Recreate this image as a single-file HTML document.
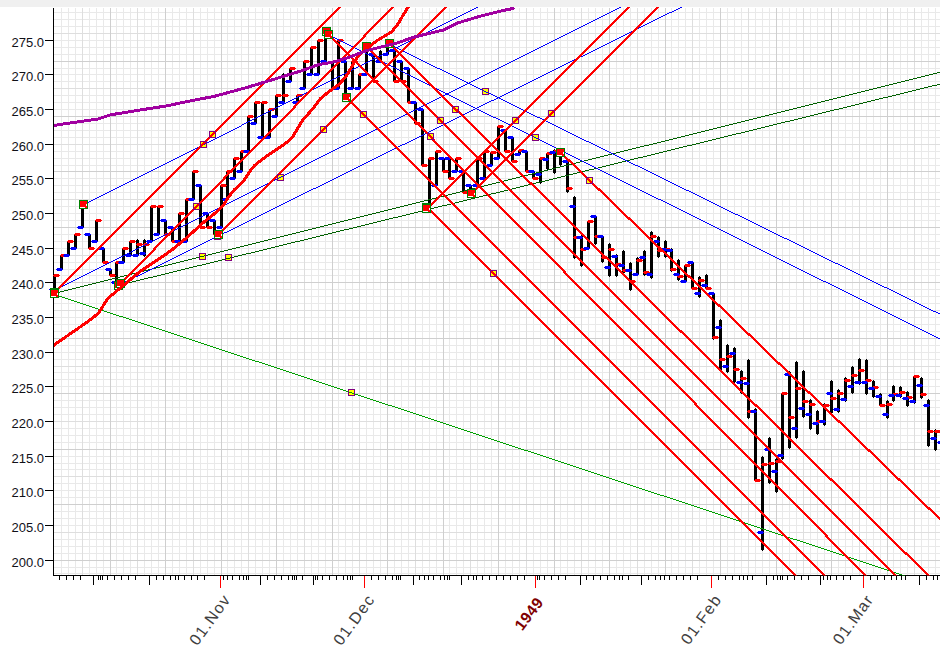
<!DOCTYPE html><html><head><meta charset="utf-8"><title>Chart</title>
<style>html,body{margin:0;padding:0;background:#fff}body{width:940px;height:654px;overflow:hidden}svg{display:block}text{font-family:"Liberation Sans",Arial,sans-serif}</style></head><body>
<svg width="940" height="654" viewBox="0 0 940 654" shape-rendering="crispEdges">
<rect x="0" y="0" width="940" height="654" fill="#ffffff"/>
<rect x="0" y="0" width="940" height="7" fill="#f0f0f0"/>
<defs><clipPath id="cp"><rect x="54" y="7" width="886" height="568.6"/></clipPath></defs>
<g><rect x="61" y="8" width="1" height="567" fill="#e9e9e9"/><rect x="68" y="8" width="1" height="567" fill="#e9e9e9"/><rect x="75" y="8" width="1" height="567" fill="#e9e9e9"/><rect x="89" y="8" width="1" height="567" fill="#e9e9e9"/><rect x="96" y="8" width="1" height="567" fill="#e9e9e9"/><rect x="103" y="8" width="1" height="567" fill="#e9e9e9"/><rect x="116" y="8" width="1" height="567" fill="#e9e9e9"/><rect x="123" y="8" width="1" height="567" fill="#e9e9e9"/><rect x="130" y="8" width="1" height="567" fill="#e9e9e9"/><rect x="144" y="8" width="1" height="567" fill="#e9e9e9"/><rect x="151" y="8" width="1" height="567" fill="#e9e9e9"/><rect x="158" y="8" width="1" height="567" fill="#e9e9e9"/><rect x="172" y="8" width="1" height="567" fill="#e9e9e9"/><rect x="179" y="8" width="1" height="567" fill="#e9e9e9"/><rect x="186" y="8" width="1" height="567" fill="#e9e9e9"/><rect x="200" y="8" width="1" height="567" fill="#e9e9e9"/><rect x="207" y="8" width="1" height="567" fill="#e9e9e9"/><rect x="214" y="8" width="1" height="567" fill="#e9e9e9"/><rect x="227" y="8" width="1" height="567" fill="#e9e9e9"/><rect x="234" y="8" width="1" height="567" fill="#e9e9e9"/><rect x="241" y="8" width="1" height="567" fill="#e9e9e9"/><rect x="255" y="8" width="1" height="567" fill="#e9e9e9"/><rect x="262" y="8" width="1" height="567" fill="#e9e9e9"/><rect x="269" y="8" width="1" height="567" fill="#e9e9e9"/><rect x="283" y="8" width="1" height="567" fill="#e9e9e9"/><rect x="290" y="8" width="1" height="567" fill="#e9e9e9"/><rect x="297" y="8" width="1" height="567" fill="#e9e9e9"/><rect x="311" y="8" width="1" height="567" fill="#e9e9e9"/><rect x="318" y="8" width="1" height="567" fill="#e9e9e9"/><rect x="325" y="8" width="1" height="567" fill="#e9e9e9"/><rect x="338" y="8" width="1" height="567" fill="#e9e9e9"/><rect x="345" y="8" width="1" height="567" fill="#e9e9e9"/><rect x="352" y="8" width="1" height="567" fill="#e9e9e9"/><rect x="366" y="8" width="1" height="567" fill="#e9e9e9"/><rect x="373" y="8" width="1" height="567" fill="#e9e9e9"/><rect x="380" y="8" width="1" height="567" fill="#e9e9e9"/><rect x="394" y="8" width="1" height="567" fill="#e9e9e9"/><rect x="401" y="8" width="1" height="567" fill="#e9e9e9"/><rect x="408" y="8" width="1" height="567" fill="#e9e9e9"/><rect x="422" y="8" width="1" height="567" fill="#e9e9e9"/><rect x="429" y="8" width="1" height="567" fill="#e9e9e9"/><rect x="436" y="8" width="1" height="567" fill="#e9e9e9"/><rect x="449" y="8" width="1" height="567" fill="#e9e9e9"/><rect x="456" y="8" width="1" height="567" fill="#e9e9e9"/><rect x="463" y="8" width="1" height="567" fill="#e9e9e9"/><rect x="477" y="8" width="1" height="567" fill="#e9e9e9"/><rect x="484" y="8" width="1" height="567" fill="#e9e9e9"/><rect x="491" y="8" width="1" height="567" fill="#e9e9e9"/><rect x="505" y="8" width="1" height="567" fill="#e9e9e9"/><rect x="512" y="8" width="1" height="567" fill="#e9e9e9"/><rect x="519" y="8" width="1" height="567" fill="#e9e9e9"/><rect x="533" y="8" width="1" height="567" fill="#e9e9e9"/><rect x="540" y="8" width="1" height="567" fill="#e9e9e9"/><rect x="547" y="8" width="1" height="567" fill="#e9e9e9"/><rect x="560" y="8" width="1" height="567" fill="#e9e9e9"/><rect x="567" y="8" width="1" height="567" fill="#e9e9e9"/><rect x="574" y="8" width="1" height="567" fill="#e9e9e9"/><rect x="588" y="8" width="1" height="567" fill="#e9e9e9"/><rect x="595" y="8" width="1" height="567" fill="#e9e9e9"/><rect x="602" y="8" width="1" height="567" fill="#e9e9e9"/><rect x="616" y="8" width="1" height="567" fill="#e9e9e9"/><rect x="623" y="8" width="1" height="567" fill="#e9e9e9"/><rect x="630" y="8" width="1" height="567" fill="#e9e9e9"/><rect x="644" y="8" width="1" height="567" fill="#e9e9e9"/><rect x="651" y="8" width="1" height="567" fill="#e9e9e9"/><rect x="658" y="8" width="1" height="567" fill="#e9e9e9"/><rect x="671" y="8" width="1" height="567" fill="#e9e9e9"/><rect x="678" y="8" width="1" height="567" fill="#e9e9e9"/><rect x="685" y="8" width="1" height="567" fill="#e9e9e9"/><rect x="699" y="8" width="1" height="567" fill="#e9e9e9"/><rect x="706" y="8" width="1" height="567" fill="#e9e9e9"/><rect x="713" y="8" width="1" height="567" fill="#e9e9e9"/><rect x="727" y="8" width="1" height="567" fill="#e9e9e9"/><rect x="734" y="8" width="1" height="567" fill="#e9e9e9"/><rect x="741" y="8" width="1" height="567" fill="#e9e9e9"/><rect x="755" y="8" width="1" height="567" fill="#e9e9e9"/><rect x="762" y="8" width="1" height="567" fill="#e9e9e9"/><rect x="769" y="8" width="1" height="567" fill="#e9e9e9"/><rect x="782" y="8" width="1" height="567" fill="#e9e9e9"/><rect x="789" y="8" width="1" height="567" fill="#e9e9e9"/><rect x="796" y="8" width="1" height="567" fill="#e9e9e9"/><rect x="810" y="8" width="1" height="567" fill="#e9e9e9"/><rect x="817" y="8" width="1" height="567" fill="#e9e9e9"/><rect x="824" y="8" width="1" height="567" fill="#e9e9e9"/><rect x="838" y="8" width="1" height="567" fill="#e9e9e9"/><rect x="845" y="8" width="1" height="567" fill="#e9e9e9"/><rect x="852" y="8" width="1" height="567" fill="#e9e9e9"/><rect x="866" y="8" width="1" height="567" fill="#e9e9e9"/><rect x="873" y="8" width="1" height="567" fill="#e9e9e9"/><rect x="880" y="8" width="1" height="567" fill="#e9e9e9"/><rect x="893" y="8" width="1" height="567" fill="#e9e9e9"/><rect x="900" y="8" width="1" height="567" fill="#e9e9e9"/><rect x="907" y="8" width="1" height="567" fill="#e9e9e9"/><rect x="921" y="8" width="1" height="567" fill="#e9e9e9"/><rect x="928" y="8" width="1" height="567" fill="#e9e9e9"/><rect x="935" y="8" width="1" height="567" fill="#e9e9e9"/><rect x="54" y="573" width="886" height="1" fill="#e9e9e9"/><rect x="54" y="567" width="886" height="1" fill="#e9e9e9"/><rect x="54" y="553" width="886" height="1" fill="#e9e9e9"/><rect x="54" y="546" width="886" height="1" fill="#e9e9e9"/><rect x="54" y="539" width="886" height="1" fill="#e9e9e9"/><rect x="54" y="525" width="886" height="1" fill="#e9e9e9"/><rect x="54" y="518" width="886" height="1" fill="#e9e9e9"/><rect x="54" y="511" width="886" height="1" fill="#e9e9e9"/><rect x="54" y="497" width="886" height="1" fill="#e9e9e9"/><rect x="54" y="490" width="886" height="1" fill="#e9e9e9"/><rect x="54" y="483" width="886" height="1" fill="#e9e9e9"/><rect x="54" y="469" width="886" height="1" fill="#e9e9e9"/><rect x="54" y="463" width="886" height="1" fill="#e9e9e9"/><rect x="54" y="456" width="886" height="1" fill="#e9e9e9"/><rect x="54" y="442" width="886" height="1" fill="#e9e9e9"/><rect x="54" y="435" width="886" height="1" fill="#e9e9e9"/><rect x="54" y="428" width="886" height="1" fill="#e9e9e9"/><rect x="54" y="414" width="886" height="1" fill="#e9e9e9"/><rect x="54" y="407" width="886" height="1" fill="#e9e9e9"/><rect x="54" y="400" width="886" height="1" fill="#e9e9e9"/><rect x="54" y="386" width="886" height="1" fill="#e9e9e9"/><rect x="54" y="379" width="886" height="1" fill="#e9e9e9"/><rect x="54" y="372" width="886" height="1" fill="#e9e9e9"/><rect x="54" y="359" width="886" height="1" fill="#e9e9e9"/><rect x="54" y="352" width="886" height="1" fill="#e9e9e9"/><rect x="54" y="345" width="886" height="1" fill="#e9e9e9"/><rect x="54" y="331" width="886" height="1" fill="#e9e9e9"/><rect x="54" y="324" width="886" height="1" fill="#e9e9e9"/><rect x="54" y="317" width="886" height="1" fill="#e9e9e9"/><rect x="54" y="303" width="886" height="1" fill="#e9e9e9"/><rect x="54" y="296" width="886" height="1" fill="#e9e9e9"/><rect x="54" y="289" width="886" height="1" fill="#e9e9e9"/><rect x="54" y="275" width="886" height="1" fill="#e9e9e9"/><rect x="54" y="269" width="886" height="1" fill="#e9e9e9"/><rect x="54" y="262" width="886" height="1" fill="#e9e9e9"/><rect x="54" y="248" width="886" height="1" fill="#e9e9e9"/><rect x="54" y="241" width="886" height="1" fill="#e9e9e9"/><rect x="54" y="234" width="886" height="1" fill="#e9e9e9"/><rect x="54" y="220" width="886" height="1" fill="#e9e9e9"/><rect x="54" y="213" width="886" height="1" fill="#e9e9e9"/><rect x="54" y="206" width="886" height="1" fill="#e9e9e9"/><rect x="54" y="192" width="886" height="1" fill="#e9e9e9"/><rect x="54" y="185" width="886" height="1" fill="#e9e9e9"/><rect x="54" y="178" width="886" height="1" fill="#e9e9e9"/><rect x="54" y="165" width="886" height="1" fill="#e9e9e9"/><rect x="54" y="158" width="886" height="1" fill="#e9e9e9"/><rect x="54" y="151" width="886" height="1" fill="#e9e9e9"/><rect x="54" y="137" width="886" height="1" fill="#e9e9e9"/><rect x="54" y="130" width="886" height="1" fill="#e9e9e9"/><rect x="54" y="123" width="886" height="1" fill="#e9e9e9"/><rect x="54" y="109" width="886" height="1" fill="#e9e9e9"/><rect x="54" y="102" width="886" height="1" fill="#e9e9e9"/><rect x="54" y="95" width="886" height="1" fill="#e9e9e9"/><rect x="54" y="81" width="886" height="1" fill="#e9e9e9"/><rect x="54" y="74" width="886" height="1" fill="#e9e9e9"/><rect x="54" y="68" width="886" height="1" fill="#e9e9e9"/><rect x="54" y="54" width="886" height="1" fill="#e9e9e9"/><rect x="54" y="47" width="886" height="1" fill="#e9e9e9"/><rect x="54" y="40" width="886" height="1" fill="#e9e9e9"/><rect x="54" y="26" width="886" height="1" fill="#e9e9e9"/><rect x="54" y="19" width="886" height="1" fill="#e9e9e9"/><rect x="54" y="12" width="886" height="1" fill="#e9e9e9"/><rect x="82" y="8" width="1" height="567" fill="#dedede"/><rect x="137" y="8" width="1" height="567" fill="#dedede"/><rect x="193" y="8" width="1" height="567" fill="#dedede"/><rect x="248" y="8" width="1" height="567" fill="#dedede"/><rect x="304" y="8" width="1" height="567" fill="#dedede"/><rect x="359" y="8" width="1" height="567" fill="#dedede"/><rect x="415" y="8" width="1" height="567" fill="#dedede"/><rect x="470" y="8" width="1" height="567" fill="#dedede"/><rect x="526" y="8" width="1" height="567" fill="#dedede"/><rect x="581" y="8" width="1" height="567" fill="#dedede"/><rect x="637" y="8" width="1" height="567" fill="#dedede"/><rect x="692" y="8" width="1" height="567" fill="#dedede"/><rect x="748" y="8" width="1" height="567" fill="#dedede"/><rect x="803" y="8" width="1" height="567" fill="#dedede"/><rect x="859" y="8" width="1" height="567" fill="#dedede"/><rect x="914" y="8" width="1" height="567" fill="#dedede"/><rect x="54" y="532" width="886" height="1" fill="#dedede"/><rect x="54" y="476" width="886" height="1" fill="#dedede"/><rect x="54" y="421" width="886" height="1" fill="#dedede"/><rect x="54" y="366" width="886" height="1" fill="#dedede"/><rect x="54" y="310" width="886" height="1" fill="#dedede"/><rect x="54" y="255" width="886" height="1" fill="#dedede"/><rect x="54" y="199" width="886" height="1" fill="#dedede"/><rect x="54" y="144" width="886" height="1" fill="#dedede"/><rect x="54" y="88" width="886" height="1" fill="#dedede"/><rect x="54" y="33" width="886" height="1" fill="#dedede"/><rect x="110" y="8" width="1" height="567" fill="#cfcfcf"/><rect x="165" y="8" width="1" height="567" fill="#cfcfcf"/><rect x="221" y="8" width="1" height="567" fill="#cfcfcf"/><rect x="276" y="8" width="1" height="567" fill="#cfcfcf"/><rect x="332" y="8" width="1" height="567" fill="#cfcfcf"/><rect x="387" y="8" width="1" height="567" fill="#cfcfcf"/><rect x="443" y="8" width="1" height="567" fill="#cfcfcf"/><rect x="498" y="8" width="1" height="567" fill="#cfcfcf"/><rect x="554" y="8" width="1" height="567" fill="#cfcfcf"/><rect x="609" y="8" width="1" height="567" fill="#cfcfcf"/><rect x="665" y="8" width="1" height="567" fill="#cfcfcf"/><rect x="720" y="8" width="1" height="567" fill="#cfcfcf"/><rect x="776" y="8" width="1" height="567" fill="#cfcfcf"/><rect x="831" y="8" width="1" height="567" fill="#cfcfcf"/><rect x="887" y="8" width="1" height="567" fill="#cfcfcf"/><rect x="54" y="560" width="886" height="1" fill="#cfcfcf"/><rect x="54" y="504" width="886" height="1" fill="#cfcfcf"/><rect x="54" y="449" width="886" height="1" fill="#cfcfcf"/><rect x="54" y="393" width="886" height="1" fill="#cfcfcf"/><rect x="54" y="338" width="886" height="1" fill="#cfcfcf"/><rect x="54" y="282" width="886" height="1" fill="#cfcfcf"/><rect x="54" y="227" width="886" height="1" fill="#cfcfcf"/><rect x="54" y="171" width="886" height="1" fill="#cfcfcf"/><rect x="54" y="116" width="886" height="1" fill="#cfcfcf"/><rect x="54" y="61" width="886" height="1" fill="#cfcfcf"/></g>
<rect x="53" y="8" width="1" height="568" fill="#000"/>
<rect x="53" y="575" width="887" height="1" fill="#000"/>
<rect x="45" y="560" width="8" height="1" fill="#000"/>
<text x="44" y="566.9" font-size="13" text-anchor="end" fill="#101018">200.0</text>
<rect x="45" y="525" width="8" height="1" fill="#000"/>
<text x="44" y="531.9" font-size="13" text-anchor="end" fill="#101018">205.0</text>
<rect x="45" y="490" width="8" height="1" fill="#000"/>
<text x="44" y="496.9" font-size="13" text-anchor="end" fill="#101018">210.0</text>
<rect x="45" y="456" width="8" height="1" fill="#000"/>
<text x="44" y="462.9" font-size="13" text-anchor="end" fill="#101018">215.0</text>
<rect x="45" y="421" width="8" height="1" fill="#000"/>
<text x="44" y="427.9" font-size="13" text-anchor="end" fill="#101018">220.0</text>
<rect x="45" y="386" width="8" height="1" fill="#000"/>
<text x="44" y="392.9" font-size="13" text-anchor="end" fill="#101018">225.0</text>
<rect x="45" y="352" width="8" height="1" fill="#000"/>
<text x="44" y="358.9" font-size="13" text-anchor="end" fill="#101018">230.0</text>
<rect x="45" y="317" width="8" height="1" fill="#000"/>
<text x="44" y="323.9" font-size="13" text-anchor="end" fill="#101018">235.0</text>
<rect x="45" y="282" width="8" height="1" fill="#000"/>
<text x="44" y="288.9" font-size="13" text-anchor="end" fill="#101018">240.0</text>
<rect x="45" y="248" width="8" height="1" fill="#000"/>
<text x="44" y="254.9" font-size="13" text-anchor="end" fill="#101018">245.0</text>
<rect x="45" y="213" width="8" height="1" fill="#000"/>
<text x="44" y="219.9" font-size="13" text-anchor="end" fill="#101018">250.0</text>
<rect x="45" y="178" width="8" height="1" fill="#000"/>
<text x="44" y="184.9" font-size="13" text-anchor="end" fill="#101018">255.0</text>
<rect x="45" y="144" width="8" height="1" fill="#000"/>
<text x="44" y="150.9" font-size="13" text-anchor="end" fill="#101018">260.0</text>
<rect x="45" y="109" width="8" height="1" fill="#000"/>
<text x="44" y="115.9" font-size="13" text-anchor="end" fill="#101018">265.0</text>
<rect x="45" y="74" width="8" height="1" fill="#000"/>
<text x="44" y="80.9" font-size="13" text-anchor="end" fill="#101018">270.0</text>
<rect x="45" y="40" width="8" height="1" fill="#000"/>
<text x="44" y="46.9" font-size="13" text-anchor="end" fill="#101018">275.0</text>
<g><rect x="59" y="576" width="1" height="4" fill="#000"/><rect x="66" y="576" width="1" height="4" fill="#000"/><rect x="73" y="576" width="1" height="4" fill="#000"/><rect x="80" y="576" width="1" height="4" fill="#000"/><rect x="98" y="576" width="1" height="4" fill="#000"/><rect x="100" y="576" width="1" height="4" fill="#000"/><rect x="102" y="576" width="1" height="4" fill="#000"/><rect x="107" y="576" width="1" height="4" fill="#000"/><rect x="114" y="576" width="1" height="4" fill="#000"/><rect x="121" y="576" width="1" height="4" fill="#000"/><rect x="128" y="576" width="1" height="4" fill="#000"/><rect x="135" y="576" width="1" height="4" fill="#000"/><rect x="156" y="576" width="1" height="4" fill="#000"/><rect x="163" y="576" width="1" height="4" fill="#000"/><rect x="170" y="576" width="1" height="4" fill="#000"/><rect x="175" y="576" width="1" height="4" fill="#000"/><rect x="178" y="576" width="1" height="4" fill="#000"/><rect x="184" y="576" width="1" height="4" fill="#000"/><rect x="191" y="576" width="1" height="4" fill="#000"/><rect x="197" y="576" width="1" height="4" fill="#000"/><rect x="204" y="576" width="1" height="4" fill="#000"/><rect x="223" y="576" width="1" height="4" fill="#000"/><rect x="227" y="576" width="1" height="4" fill="#000"/><rect x="232" y="576" width="1" height="4" fill="#000"/><rect x="239" y="576" width="1" height="4" fill="#000"/><rect x="243" y="576" width="1" height="4" fill="#000"/><rect x="246" y="576" width="1" height="4" fill="#000"/><rect x="248" y="576" width="1" height="4" fill="#000"/><rect x="267" y="576" width="1" height="4" fill="#000"/><rect x="274" y="576" width="1" height="4" fill="#000"/><rect x="281" y="576" width="1" height="4" fill="#000"/><rect x="288" y="576" width="1" height="4" fill="#000"/><rect x="292" y="576" width="1" height="4" fill="#000"/><rect x="294" y="576" width="1" height="4" fill="#000"/><rect x="296" y="576" width="1" height="4" fill="#000"/><rect x="302" y="576" width="1" height="4" fill="#000"/><rect x="315" y="576" width="1" height="4" fill="#000"/><rect x="317" y="576" width="1" height="4" fill="#000"/><rect x="322" y="576" width="1" height="4" fill="#000"/><rect x="329" y="576" width="1" height="4" fill="#000"/><rect x="336" y="576" width="1" height="4" fill="#000"/><rect x="343" y="576" width="1" height="4" fill="#000"/><rect x="347" y="576" width="1" height="4" fill="#000"/><rect x="350" y="576" width="1" height="4" fill="#000"/><rect x="352" y="576" width="1" height="4" fill="#000"/><rect x="371" y="576" width="1" height="4" fill="#000"/><rect x="378" y="576" width="1" height="4" fill="#000"/><rect x="385" y="576" width="1" height="4" fill="#000"/><rect x="392" y="576" width="1" height="4" fill="#000"/><rect x="396" y="576" width="1" height="4" fill="#000"/><rect x="398" y="576" width="1" height="4" fill="#000"/><rect x="400" y="576" width="1" height="4" fill="#000"/><rect x="419" y="576" width="1" height="4" fill="#000"/><rect x="424" y="576" width="1" height="4" fill="#000"/><rect x="428" y="576" width="1" height="4" fill="#000"/><rect x="433" y="576" width="1" height="4" fill="#000"/><rect x="440" y="576" width="1" height="4" fill="#000"/><rect x="444" y="576" width="1" height="4" fill="#000"/><rect x="447" y="576" width="1" height="4" fill="#000"/><rect x="449" y="576" width="1" height="4" fill="#000"/><rect x="468" y="576" width="1" height="4" fill="#000"/><rect x="473" y="576" width="1" height="4" fill="#000"/><rect x="476" y="576" width="1" height="4" fill="#000"/><rect x="482" y="576" width="1" height="4" fill="#000"/><rect x="489" y="576" width="1" height="4" fill="#000"/><rect x="496" y="576" width="1" height="4" fill="#000"/><rect x="503" y="576" width="1" height="4" fill="#000"/><rect x="510" y="576" width="1" height="4" fill="#000"/><rect x="517" y="576" width="1" height="4" fill="#000"/><rect x="524" y="576" width="1" height="4" fill="#000"/><rect x="537" y="576" width="1" height="4" fill="#000"/><rect x="539" y="576" width="1" height="4" fill="#000"/><rect x="544" y="576" width="1" height="4" fill="#000"/><rect x="551" y="576" width="1" height="4" fill="#000"/><rect x="558" y="576" width="1" height="4" fill="#000"/><rect x="565" y="576" width="1" height="4" fill="#000"/><rect x="586" y="576" width="1" height="4" fill="#000"/><rect x="593" y="576" width="1" height="4" fill="#000"/><rect x="600" y="576" width="1" height="4" fill="#000"/><rect x="607" y="576" width="1" height="4" fill="#000"/><rect x="614" y="576" width="1" height="4" fill="#000"/><rect x="619" y="576" width="1" height="4" fill="#000"/><rect x="622" y="576" width="1" height="4" fill="#000"/><rect x="628" y="576" width="1" height="4" fill="#000"/><rect x="648" y="576" width="1" height="4" fill="#000"/><rect x="655" y="576" width="1" height="4" fill="#000"/><rect x="660" y="576" width="1" height="4" fill="#000"/><rect x="664" y="576" width="1" height="4" fill="#000"/><rect x="669" y="576" width="1" height="4" fill="#000"/><rect x="676" y="576" width="1" height="4" fill="#000"/><rect x="683" y="576" width="1" height="4" fill="#000"/><rect x="690" y="576" width="1" height="4" fill="#000"/><rect x="697" y="576" width="1" height="4" fill="#000"/><rect x="718" y="576" width="1" height="4" fill="#000"/><rect x="725" y="576" width="1" height="4" fill="#000"/><rect x="732" y="576" width="1" height="4" fill="#000"/><rect x="739" y="576" width="1" height="4" fill="#000"/><rect x="743" y="576" width="1" height="4" fill="#000"/><rect x="747" y="576" width="1" height="4" fill="#000"/><rect x="752" y="576" width="1" height="4" fill="#000"/><rect x="773" y="576" width="1" height="4" fill="#000"/><rect x="777" y="576" width="1" height="4" fill="#000"/><rect x="780" y="576" width="1" height="4" fill="#000"/><rect x="782" y="576" width="1" height="4" fill="#000"/><rect x="787" y="576" width="1" height="4" fill="#000"/><rect x="794" y="576" width="1" height="4" fill="#000"/><rect x="801" y="576" width="1" height="4" fill="#000"/><rect x="808" y="576" width="1" height="4" fill="#000"/><rect x="823" y="576" width="1" height="4" fill="#000"/><rect x="827" y="576" width="1" height="4" fill="#000"/><rect x="830" y="576" width="1" height="4" fill="#000"/><rect x="836" y="576" width="1" height="4" fill="#000"/><rect x="843" y="576" width="1" height="4" fill="#000"/><rect x="850" y="576" width="1" height="4" fill="#000"/><rect x="870" y="576" width="1" height="4" fill="#000"/><rect x="877" y="576" width="1" height="4" fill="#000"/><rect x="884" y="576" width="1" height="4" fill="#000"/><rect x="891" y="576" width="1" height="4" fill="#000"/><rect x="896" y="576" width="1" height="4" fill="#000"/><rect x="901" y="576" width="1" height="4" fill="#000"/><rect x="905" y="576" width="1" height="4" fill="#000"/><rect x="926" y="576" width="1" height="4" fill="#000"/><rect x="933" y="576" width="1" height="4" fill="#000"/><rect x="937" y="576" width="1" height="4" fill="#000"/><rect x="93" y="576" width="1" height="9" fill="#000"/><rect x="149" y="576" width="1" height="9" fill="#000"/><rect x="260" y="576" width="1" height="9" fill="#000"/><rect x="313" y="576" width="1" height="9" fill="#000"/><rect x="413" y="576" width="1" height="9" fill="#000"/><rect x="461" y="576" width="1" height="9" fill="#000"/><rect x="580" y="576" width="1" height="9" fill="#000"/><rect x="641" y="576" width="1" height="9" fill="#000"/><rect x="766" y="576" width="1" height="9" fill="#000"/><rect x="820" y="576" width="1" height="9" fill="#000"/><rect x="919" y="576" width="1" height="9" fill="#000"/><rect x="220" y="576" width="1" height="12" fill="#ff0000"/><rect x="364" y="576" width="1" height="12" fill="#ff0000"/><rect x="535" y="576" width="1" height="12" fill="#ff0000"/><rect x="711" y="576" width="1" height="12" fill="#ff0000"/><rect x="863" y="576" width="1" height="12" fill="#ff0000"/></g>
<text transform="translate(197.20000000000002,646.5) rotate(-54)" font-size="16" letter-spacing="1.28" fill="#404040">01.Nov</text>
<text transform="translate(341.3,646.5) rotate(-54)" font-size="16" letter-spacing="1.28" fill="#404040">01.Dec</text>
<text transform="translate(522.1999999999999,631.6) rotate(-53)" font-size="15.5" letter-spacing="0.55" font-weight="bold" fill="#800000">1949</text>
<text transform="translate(688.6999999999999,645.8) rotate(-54)" font-size="16" letter-spacing="1.28" fill="#404040">01.Feb</text>
<text transform="translate(840.6999999999999,645.8) rotate(-54)" font-size="16" letter-spacing="1.28" fill="#404040">01.Mar</text>
<g><rect x="53" y="276" width="3" height="17" fill="#000"/><rect x="54" y="275" width="1" height="19" fill="#000"/><rect x="60" y="256" width="3" height="13" fill="#000"/><rect x="61" y="255" width="1" height="15" fill="#000"/><rect x="67" y="242" width="3" height="13" fill="#000"/><rect x="68" y="241" width="1" height="15" fill="#000"/><rect x="74" y="235" width="3" height="13" fill="#000"/><rect x="75" y="234" width="1" height="15" fill="#000"/><rect x="81" y="205" width="3" height="22" fill="#000"/><rect x="82" y="204" width="1" height="24" fill="#000"/><rect x="88" y="235" width="3" height="13" fill="#000"/><rect x="89" y="234" width="1" height="15" fill="#000"/><rect x="95" y="221" width="3" height="20" fill="#000"/><rect x="96" y="220" width="1" height="22" fill="#000"/><rect x="102" y="249" width="3" height="13" fill="#000"/><rect x="103" y="248" width="1" height="15" fill="#000"/><rect x="109" y="270" width="3" height="5" fill="#000"/><rect x="110" y="269" width="1" height="7" fill="#000"/><rect x="115" y="263" width="3" height="21" fill="#000"/><rect x="116" y="262" width="1" height="23" fill="#000"/><rect x="122" y="249" width="3" height="13" fill="#000"/><rect x="123" y="248" width="1" height="15" fill="#000"/><rect x="129" y="242" width="3" height="13" fill="#000"/><rect x="130" y="241" width="1" height="15" fill="#000"/><rect x="136" y="240" width="3" height="16" fill="#000"/><rect x="137" y="239" width="1" height="18" fill="#000"/><rect x="143" y="240" width="3" height="16" fill="#000"/><rect x="144" y="239" width="1" height="18" fill="#000"/><rect x="150" y="207" width="3" height="34" fill="#000"/><rect x="151" y="206" width="1" height="36" fill="#000"/><rect x="157" y="207" width="3" height="27" fill="#000"/><rect x="158" y="206" width="1" height="29" fill="#000"/><rect x="164" y="221" width="3" height="13" fill="#000"/><rect x="165" y="220" width="1" height="15" fill="#000"/><rect x="171" y="228" width="3" height="13" fill="#000"/><rect x="172" y="227" width="1" height="15" fill="#000"/><rect x="178" y="214" width="3" height="27" fill="#000"/><rect x="179" y="213" width="1" height="29" fill="#000"/><rect x="185" y="200" width="3" height="41" fill="#000"/><rect x="186" y="199" width="1" height="43" fill="#000"/><rect x="192" y="172" width="3" height="27" fill="#000"/><rect x="193" y="171" width="1" height="29" fill="#000"/><rect x="199" y="186" width="3" height="41" fill="#000"/><rect x="200" y="185" width="1" height="43" fill="#000"/><rect x="206" y="214" width="3" height="13" fill="#000"/><rect x="207" y="213" width="1" height="15" fill="#000"/><rect x="213" y="221" width="3" height="13" fill="#000"/><rect x="214" y="220" width="1" height="15" fill="#000"/><rect x="220" y="186" width="3" height="41" fill="#000"/><rect x="221" y="185" width="1" height="43" fill="#000"/><rect x="226" y="172" width="3" height="27" fill="#000"/><rect x="227" y="171" width="1" height="29" fill="#000"/><rect x="233" y="159" width="3" height="19" fill="#000"/><rect x="234" y="158" width="1" height="21" fill="#000"/><rect x="240" y="152" width="3" height="19" fill="#000"/><rect x="241" y="151" width="1" height="21" fill="#000"/><rect x="247" y="117" width="3" height="34" fill="#000"/><rect x="248" y="116" width="1" height="36" fill="#000"/><rect x="254" y="103" width="3" height="20" fill="#000"/><rect x="255" y="102" width="1" height="22" fill="#000"/><rect x="261" y="103" width="3" height="34" fill="#000"/><rect x="262" y="102" width="1" height="36" fill="#000"/><rect x="268" y="110" width="3" height="27" fill="#000"/><rect x="269" y="109" width="1" height="29" fill="#000"/><rect x="275" y="96" width="3" height="20" fill="#000"/><rect x="276" y="95" width="1" height="22" fill="#000"/><rect x="282" y="74" width="3" height="28" fill="#000"/><rect x="283" y="73" width="1" height="30" fill="#000"/><rect x="289" y="69" width="3" height="12" fill="#000"/><rect x="290" y="68" width="1" height="14" fill="#000"/><rect x="296" y="96" width="3" height="6" fill="#000"/><rect x="297" y="95" width="1" height="8" fill="#000"/><rect x="303" y="62" width="3" height="26" fill="#000"/><rect x="304" y="61" width="1" height="28" fill="#000"/><rect x="310" y="48" width="3" height="26" fill="#000"/><rect x="311" y="47" width="1" height="28" fill="#000"/><rect x="317" y="41" width="3" height="33" fill="#000"/><rect x="318" y="40" width="1" height="35" fill="#000"/><rect x="324" y="32" width="3" height="29" fill="#000"/><rect x="325" y="31" width="1" height="31" fill="#000"/><rect x="331" y="62" width="3" height="26" fill="#000"/><rect x="332" y="61" width="1" height="28" fill="#000"/><rect x="337" y="41" width="3" height="47" fill="#000"/><rect x="338" y="40" width="1" height="49" fill="#000"/><rect x="344" y="62" width="3" height="35" fill="#000"/><rect x="345" y="61" width="1" height="37" fill="#000"/><rect x="351" y="62" width="3" height="26" fill="#000"/><rect x="352" y="61" width="1" height="28" fill="#000"/><rect x="358" y="75" width="3" height="13" fill="#000"/><rect x="359" y="74" width="1" height="15" fill="#000"/><rect x="365" y="47" width="3" height="27" fill="#000"/><rect x="366" y="46" width="1" height="29" fill="#000"/><rect x="372" y="55" width="3" height="26" fill="#000"/><rect x="373" y="54" width="1" height="28" fill="#000"/><rect x="379" y="51" width="3" height="10" fill="#000"/><rect x="380" y="50" width="1" height="12" fill="#000"/><rect x="386" y="44" width="3" height="10" fill="#000"/><rect x="387" y="43" width="1" height="12" fill="#000"/><rect x="393" y="51" width="3" height="30" fill="#000"/><rect x="394" y="50" width="1" height="32" fill="#000"/><rect x="400" y="62" width="3" height="19" fill="#000"/><rect x="401" y="61" width="1" height="21" fill="#000"/><rect x="407" y="69" width="3" height="33" fill="#000"/><rect x="408" y="68" width="1" height="35" fill="#000"/><rect x="414" y="103" width="3" height="20" fill="#000"/><rect x="415" y="102" width="1" height="22" fill="#000"/><rect x="421" y="110" width="3" height="55" fill="#000"/><rect x="422" y="109" width="1" height="57" fill="#000"/><rect x="428" y="159" width="3" height="49" fill="#000"/><rect x="429" y="158" width="1" height="51" fill="#000"/><rect x="435" y="152" width="3" height="33" fill="#000"/><rect x="436" y="151" width="1" height="35" fill="#000"/><rect x="442" y="159" width="3" height="12" fill="#000"/><rect x="443" y="158" width="1" height="14" fill="#000"/><rect x="448" y="159" width="3" height="19" fill="#000"/><rect x="449" y="158" width="1" height="21" fill="#000"/><rect x="455" y="159" width="3" height="12" fill="#000"/><rect x="456" y="158" width="1" height="14" fill="#000"/><rect x="462" y="172" width="3" height="20" fill="#000"/><rect x="463" y="171" width="1" height="22" fill="#000"/><rect x="469" y="186" width="3" height="8" fill="#000"/><rect x="470" y="185" width="1" height="10" fill="#000"/><rect x="476" y="159" width="3" height="26" fill="#000"/><rect x="477" y="158" width="1" height="28" fill="#000"/><rect x="483" y="152" width="3" height="26" fill="#000"/><rect x="484" y="151" width="1" height="28" fill="#000"/><rect x="490" y="153" width="3" height="12" fill="#000"/><rect x="491" y="152" width="1" height="14" fill="#000"/><rect x="497" y="127" width="3" height="31" fill="#000"/><rect x="498" y="126" width="1" height="33" fill="#000"/><rect x="504" y="131" width="3" height="20" fill="#000"/><rect x="505" y="130" width="1" height="22" fill="#000"/><rect x="511" y="138" width="3" height="23" fill="#000"/><rect x="512" y="137" width="1" height="25" fill="#000"/><rect x="518" y="151" width="3" height="3" fill="#000"/><rect x="519" y="150" width="1" height="5" fill="#000"/><rect x="525" y="152" width="3" height="19" fill="#000"/><rect x="526" y="151" width="1" height="21" fill="#000"/><rect x="532" y="172" width="3" height="6" fill="#000"/><rect x="533" y="171" width="1" height="8" fill="#000"/><rect x="539" y="159" width="3" height="24" fill="#000"/><rect x="540" y="158" width="1" height="26" fill="#000"/><rect x="546" y="153" width="3" height="16" fill="#000"/><rect x="547" y="152" width="1" height="18" fill="#000"/><rect x="553" y="150" width="3" height="23" fill="#000"/><rect x="554" y="149" width="1" height="25" fill="#000"/><rect x="559" y="150" width="3" height="15" fill="#000"/><rect x="560" y="149" width="1" height="17" fill="#000"/><rect x="566" y="162" width="3" height="30" fill="#000"/><rect x="567" y="161" width="1" height="32" fill="#000"/><rect x="573" y="197" width="3" height="61" fill="#000"/><rect x="574" y="196" width="1" height="63" fill="#000"/><rect x="580" y="236" width="3" height="30" fill="#000"/><rect x="581" y="235" width="1" height="32" fill="#000"/><rect x="587" y="221" width="3" height="27" fill="#000"/><rect x="588" y="220" width="1" height="29" fill="#000"/><rect x="594" y="217" width="3" height="27" fill="#000"/><rect x="595" y="216" width="1" height="29" fill="#000"/><rect x="601" y="237" width="3" height="25" fill="#000"/><rect x="602" y="236" width="1" height="27" fill="#000"/><rect x="608" y="244" width="3" height="32" fill="#000"/><rect x="609" y="243" width="1" height="34" fill="#000"/><rect x="615" y="255" width="3" height="21" fill="#000"/><rect x="616" y="254" width="1" height="23" fill="#000"/><rect x="622" y="251" width="3" height="22" fill="#000"/><rect x="623" y="250" width="1" height="24" fill="#000"/><rect x="629" y="263" width="3" height="27" fill="#000"/><rect x="630" y="262" width="1" height="29" fill="#000"/><rect x="636" y="258" width="3" height="17" fill="#000"/><rect x="637" y="257" width="1" height="19" fill="#000"/><rect x="643" y="251" width="3" height="24" fill="#000"/><rect x="644" y="250" width="1" height="26" fill="#000"/><rect x="650" y="232" width="3" height="46" fill="#000"/><rect x="651" y="231" width="1" height="48" fill="#000"/><rect x="657" y="237" width="3" height="20" fill="#000"/><rect x="658" y="236" width="1" height="22" fill="#000"/><rect x="664" y="241" width="3" height="16" fill="#000"/><rect x="665" y="240" width="1" height="18" fill="#000"/><rect x="670" y="249" width="3" height="22" fill="#000"/><rect x="671" y="248" width="1" height="24" fill="#000"/><rect x="677" y="260" width="3" height="20" fill="#000"/><rect x="678" y="259" width="1" height="22" fill="#000"/><rect x="684" y="266" width="3" height="16" fill="#000"/><rect x="685" y="265" width="1" height="18" fill="#000"/><rect x="691" y="263" width="3" height="26" fill="#000"/><rect x="692" y="262" width="1" height="28" fill="#000"/><rect x="698" y="277" width="3" height="20" fill="#000"/><rect x="699" y="276" width="1" height="22" fill="#000"/><rect x="705" y="275" width="3" height="14" fill="#000"/><rect x="706" y="274" width="1" height="16" fill="#000"/><rect x="712" y="294" width="3" height="45" fill="#000"/><rect x="713" y="293" width="1" height="47" fill="#000"/><rect x="719" y="320" width="3" height="50" fill="#000"/><rect x="720" y="319" width="1" height="52" fill="#000"/><rect x="726" y="345" width="3" height="27" fill="#000"/><rect x="727" y="344" width="1" height="29" fill="#000"/><rect x="733" y="348" width="3" height="34" fill="#000"/><rect x="734" y="347" width="1" height="36" fill="#000"/><rect x="740" y="371" width="3" height="22" fill="#000"/><rect x="741" y="370" width="1" height="24" fill="#000"/><rect x="747" y="360" width="3" height="58" fill="#000"/><rect x="748" y="359" width="1" height="60" fill="#000"/><rect x="754" y="409" width="3" height="72" fill="#000"/><rect x="755" y="408" width="1" height="74" fill="#000"/><rect x="761" y="457" width="3" height="93" fill="#000"/><rect x="762" y="456" width="1" height="95" fill="#000"/><rect x="768" y="438" width="3" height="45" fill="#000"/><rect x="769" y="437" width="1" height="47" fill="#000"/><rect x="775" y="459" width="3" height="33" fill="#000"/><rect x="776" y="458" width="1" height="35" fill="#000"/><rect x="781" y="394" width="3" height="65" fill="#000"/><rect x="782" y="393" width="1" height="67" fill="#000"/><rect x="788" y="372" width="3" height="76" fill="#000"/><rect x="789" y="371" width="1" height="78" fill="#000"/><rect x="795" y="362" width="3" height="76" fill="#000"/><rect x="796" y="361" width="1" height="78" fill="#000"/><rect x="802" y="371" width="3" height="46" fill="#000"/><rect x="803" y="370" width="1" height="48" fill="#000"/><rect x="809" y="400" width="3" height="29" fill="#000"/><rect x="810" y="399" width="1" height="31" fill="#000"/><rect x="816" y="411" width="3" height="23" fill="#000"/><rect x="817" y="410" width="1" height="25" fill="#000"/><rect x="823" y="404" width="3" height="21" fill="#000"/><rect x="824" y="403" width="1" height="23" fill="#000"/><rect x="830" y="381" width="3" height="32" fill="#000"/><rect x="831" y="380" width="1" height="34" fill="#000"/><rect x="837" y="390" width="3" height="22" fill="#000"/><rect x="838" y="389" width="1" height="24" fill="#000"/><rect x="844" y="378" width="3" height="23" fill="#000"/><rect x="845" y="377" width="1" height="25" fill="#000"/><rect x="851" y="367" width="3" height="26" fill="#000"/><rect x="852" y="366" width="1" height="28" fill="#000"/><rect x="858" y="359" width="3" height="25" fill="#000"/><rect x="859" y="358" width="1" height="27" fill="#000"/><rect x="865" y="360" width="3" height="34" fill="#000"/><rect x="866" y="359" width="1" height="36" fill="#000"/><rect x="872" y="381" width="3" height="16" fill="#000"/><rect x="873" y="380" width="1" height="18" fill="#000"/><rect x="879" y="394" width="3" height="12" fill="#000"/><rect x="880" y="393" width="1" height="14" fill="#000"/><rect x="886" y="401" width="3" height="17" fill="#000"/><rect x="887" y="400" width="1" height="19" fill="#000"/><rect x="892" y="386" width="3" height="15" fill="#000"/><rect x="893" y="385" width="1" height="17" fill="#000"/><rect x="899" y="387" width="3" height="10" fill="#000"/><rect x="900" y="386" width="1" height="12" fill="#000"/><rect x="906" y="392" width="3" height="14" fill="#000"/><rect x="907" y="391" width="1" height="16" fill="#000"/><rect x="913" y="377" width="3" height="26" fill="#000"/><rect x="914" y="376" width="1" height="28" fill="#000"/><rect x="920" y="378" width="3" height="20" fill="#000"/><rect x="921" y="377" width="1" height="22" fill="#000"/><rect x="927" y="400" width="3" height="46" fill="#000"/><rect x="928" y="399" width="1" height="48" fill="#000"/><rect x="934" y="430" width="3" height="20" fill="#000"/><rect x="935" y="429" width="1" height="22" fill="#000"/></g><g><rect x="53" y="275" width="7" height="1" fill="#ff0000"/><rect x="54" y="274" width="5" height="3" fill="#ff0000"/><rect x="60" y="255" width="7" height="1" fill="#ff0000"/><rect x="61" y="254" width="5" height="3" fill="#ff0000"/><rect x="67" y="241" width="7" height="1" fill="#ff0000"/><rect x="68" y="240" width="5" height="3" fill="#ff0000"/><rect x="74" y="234" width="7" height="1" fill="#ff0000"/><rect x="75" y="233" width="5" height="3" fill="#ff0000"/><rect x="81" y="204" width="7" height="1" fill="#ff0000"/><rect x="82" y="203" width="5" height="3" fill="#ff0000"/><rect x="88" y="248" width="7" height="1" fill="#ff0000"/><rect x="89" y="247" width="5" height="3" fill="#ff0000"/><rect x="95" y="220" width="7" height="1" fill="#ff0000"/><rect x="96" y="219" width="5" height="3" fill="#ff0000"/><rect x="102" y="262" width="7" height="1" fill="#ff0000"/><rect x="103" y="261" width="5" height="3" fill="#ff0000"/><rect x="109" y="275" width="7" height="1" fill="#ff0000"/><rect x="110" y="274" width="5" height="3" fill="#ff0000"/><rect x="115" y="262" width="7" height="1" fill="#ff0000"/><rect x="116" y="261" width="5" height="3" fill="#ff0000"/><rect x="122" y="248" width="7" height="1" fill="#ff0000"/><rect x="123" y="247" width="5" height="3" fill="#ff0000"/><rect x="129" y="241" width="7" height="1" fill="#ff0000"/><rect x="130" y="240" width="5" height="3" fill="#ff0000"/><rect x="136" y="244" width="7" height="1" fill="#ff0000"/><rect x="137" y="243" width="5" height="3" fill="#ff0000"/><rect x="143" y="244" width="7" height="1" fill="#ff0000"/><rect x="144" y="243" width="5" height="3" fill="#ff0000"/><rect x="150" y="206" width="7" height="1" fill="#ff0000"/><rect x="151" y="205" width="5" height="3" fill="#ff0000"/><rect x="157" y="206" width="7" height="1" fill="#ff0000"/><rect x="158" y="205" width="5" height="3" fill="#ff0000"/><rect x="164" y="234" width="7" height="1" fill="#ff0000"/><rect x="165" y="233" width="5" height="3" fill="#ff0000"/><rect x="171" y="241" width="7" height="1" fill="#ff0000"/><rect x="172" y="240" width="5" height="3" fill="#ff0000"/><rect x="178" y="213" width="7" height="1" fill="#ff0000"/><rect x="179" y="212" width="5" height="3" fill="#ff0000"/><rect x="185" y="199" width="7" height="1" fill="#ff0000"/><rect x="186" y="198" width="5" height="3" fill="#ff0000"/><rect x="192" y="171" width="7" height="1" fill="#ff0000"/><rect x="193" y="170" width="5" height="3" fill="#ff0000"/><rect x="199" y="227" width="7" height="1" fill="#ff0000"/><rect x="200" y="226" width="5" height="3" fill="#ff0000"/><rect x="206" y="227" width="7" height="1" fill="#ff0000"/><rect x="207" y="226" width="5" height="3" fill="#ff0000"/><rect x="213" y="234" width="7" height="1" fill="#ff0000"/><rect x="214" y="233" width="5" height="3" fill="#ff0000"/><rect x="220" y="185" width="7" height="1" fill="#ff0000"/><rect x="221" y="184" width="5" height="3" fill="#ff0000"/><rect x="226" y="171" width="7" height="1" fill="#ff0000"/><rect x="227" y="170" width="5" height="3" fill="#ff0000"/><rect x="233" y="158" width="7" height="1" fill="#ff0000"/><rect x="234" y="157" width="5" height="3" fill="#ff0000"/><rect x="240" y="151" width="7" height="1" fill="#ff0000"/><rect x="241" y="150" width="5" height="3" fill="#ff0000"/><rect x="247" y="116" width="7" height="1" fill="#ff0000"/><rect x="248" y="115" width="5" height="3" fill="#ff0000"/><rect x="254" y="102" width="7" height="1" fill="#ff0000"/><rect x="255" y="101" width="5" height="3" fill="#ff0000"/><rect x="261" y="102" width="7" height="1" fill="#ff0000"/><rect x="262" y="101" width="5" height="3" fill="#ff0000"/><rect x="268" y="109" width="7" height="1" fill="#ff0000"/><rect x="269" y="108" width="5" height="3" fill="#ff0000"/><rect x="275" y="95" width="7" height="1" fill="#ff0000"/><rect x="276" y="94" width="5" height="3" fill="#ff0000"/><rect x="282" y="95" width="7" height="1" fill="#ff0000"/><rect x="283" y="94" width="5" height="3" fill="#ff0000"/><rect x="289" y="68" width="7" height="1" fill="#ff0000"/><rect x="290" y="67" width="5" height="3" fill="#ff0000"/><rect x="296" y="95" width="7" height="1" fill="#ff0000"/><rect x="297" y="94" width="5" height="3" fill="#ff0000"/><rect x="303" y="61" width="7" height="1" fill="#ff0000"/><rect x="304" y="60" width="5" height="3" fill="#ff0000"/><rect x="310" y="47" width="7" height="1" fill="#ff0000"/><rect x="311" y="46" width="5" height="3" fill="#ff0000"/><rect x="317" y="40" width="7" height="1" fill="#ff0000"/><rect x="318" y="39" width="5" height="3" fill="#ff0000"/><rect x="324" y="31" width="7" height="1" fill="#ff0000"/><rect x="325" y="30" width="5" height="3" fill="#ff0000"/><rect x="331" y="88" width="7" height="1" fill="#ff0000"/><rect x="332" y="87" width="5" height="3" fill="#ff0000"/><rect x="337" y="40" width="7" height="1" fill="#ff0000"/><rect x="338" y="39" width="5" height="3" fill="#ff0000"/><rect x="344" y="97" width="7" height="1" fill="#ff0000"/><rect x="345" y="96" width="5" height="3" fill="#ff0000"/><rect x="351" y="61" width="7" height="1" fill="#ff0000"/><rect x="352" y="60" width="5" height="3" fill="#ff0000"/><rect x="358" y="74" width="7" height="1" fill="#ff0000"/><rect x="359" y="73" width="5" height="3" fill="#ff0000"/><rect x="365" y="46" width="7" height="1" fill="#ff0000"/><rect x="366" y="45" width="5" height="3" fill="#ff0000"/><rect x="372" y="81" width="7" height="1" fill="#ff0000"/><rect x="373" y="80" width="5" height="3" fill="#ff0000"/><rect x="386" y="43" width="7" height="1" fill="#ff0000"/><rect x="387" y="42" width="5" height="3" fill="#ff0000"/><rect x="393" y="81" width="7" height="1" fill="#ff0000"/><rect x="394" y="80" width="5" height="3" fill="#ff0000"/><rect x="400" y="81" width="7" height="1" fill="#ff0000"/><rect x="401" y="80" width="5" height="3" fill="#ff0000"/><rect x="407" y="102" width="7" height="1" fill="#ff0000"/><rect x="408" y="101" width="5" height="3" fill="#ff0000"/><rect x="414" y="123" width="7" height="1" fill="#ff0000"/><rect x="415" y="122" width="5" height="3" fill="#ff0000"/><rect x="421" y="165" width="7" height="1" fill="#ff0000"/><rect x="422" y="164" width="5" height="3" fill="#ff0000"/><rect x="428" y="158" width="7" height="1" fill="#ff0000"/><rect x="429" y="157" width="5" height="3" fill="#ff0000"/><rect x="435" y="151" width="7" height="1" fill="#ff0000"/><rect x="436" y="150" width="5" height="3" fill="#ff0000"/><rect x="442" y="171" width="7" height="1" fill="#ff0000"/><rect x="443" y="170" width="5" height="3" fill="#ff0000"/><rect x="448" y="178" width="7" height="1" fill="#ff0000"/><rect x="449" y="177" width="5" height="3" fill="#ff0000"/><rect x="455" y="158" width="7" height="1" fill="#ff0000"/><rect x="456" y="157" width="5" height="3" fill="#ff0000"/><rect x="462" y="192" width="7" height="1" fill="#ff0000"/><rect x="463" y="191" width="5" height="3" fill="#ff0000"/><rect x="469" y="193" width="7" height="1" fill="#ff0000"/><rect x="470" y="192" width="5" height="3" fill="#ff0000"/><rect x="476" y="158" width="7" height="1" fill="#ff0000"/><rect x="477" y="157" width="5" height="3" fill="#ff0000"/><rect x="483" y="151" width="7" height="1" fill="#ff0000"/><rect x="484" y="150" width="5" height="3" fill="#ff0000"/><rect x="490" y="152" width="7" height="1" fill="#ff0000"/><rect x="491" y="151" width="5" height="3" fill="#ff0000"/><rect x="497" y="126" width="7" height="1" fill="#ff0000"/><rect x="498" y="125" width="5" height="3" fill="#ff0000"/><rect x="504" y="151" width="7" height="1" fill="#ff0000"/><rect x="505" y="150" width="5" height="3" fill="#ff0000"/><rect x="511" y="161" width="7" height="1" fill="#ff0000"/><rect x="512" y="160" width="5" height="3" fill="#ff0000"/><rect x="518" y="150" width="7" height="1" fill="#ff0000"/><rect x="519" y="149" width="5" height="3" fill="#ff0000"/><rect x="525" y="171" width="7" height="1" fill="#ff0000"/><rect x="526" y="170" width="5" height="3" fill="#ff0000"/><rect x="532" y="178" width="7" height="1" fill="#ff0000"/><rect x="533" y="177" width="5" height="3" fill="#ff0000"/><rect x="539" y="158" width="7" height="1" fill="#ff0000"/><rect x="540" y="157" width="5" height="3" fill="#ff0000"/><rect x="546" y="153" width="7" height="1" fill="#ff0000"/><rect x="547" y="152" width="5" height="3" fill="#ff0000"/><rect x="553" y="151" width="7" height="1" fill="#ff0000"/><rect x="554" y="150" width="5" height="3" fill="#ff0000"/><rect x="559" y="152" width="7" height="1" fill="#ff0000"/><rect x="560" y="151" width="5" height="3" fill="#ff0000"/><rect x="566" y="188" width="7" height="1" fill="#ff0000"/><rect x="567" y="187" width="5" height="3" fill="#ff0000"/><rect x="573" y="237" width="7" height="1" fill="#ff0000"/><rect x="574" y="236" width="5" height="3" fill="#ff0000"/><rect x="580" y="249" width="7" height="1" fill="#ff0000"/><rect x="581" y="248" width="5" height="3" fill="#ff0000"/><rect x="587" y="221" width="7" height="1" fill="#ff0000"/><rect x="588" y="220" width="5" height="3" fill="#ff0000"/><rect x="594" y="236" width="7" height="1" fill="#ff0000"/><rect x="595" y="235" width="5" height="3" fill="#ff0000"/><rect x="601" y="257" width="7" height="1" fill="#ff0000"/><rect x="602" y="256" width="5" height="3" fill="#ff0000"/><rect x="608" y="249" width="7" height="1" fill="#ff0000"/><rect x="609" y="248" width="5" height="3" fill="#ff0000"/><rect x="615" y="264" width="7" height="1" fill="#ff0000"/><rect x="616" y="263" width="5" height="3" fill="#ff0000"/><rect x="622" y="270" width="7" height="1" fill="#ff0000"/><rect x="623" y="269" width="5" height="3" fill="#ff0000"/><rect x="629" y="281" width="7" height="1" fill="#ff0000"/><rect x="630" y="280" width="5" height="3" fill="#ff0000"/><rect x="636" y="260" width="7" height="1" fill="#ff0000"/><rect x="637" y="259" width="5" height="3" fill="#ff0000"/><rect x="643" y="272" width="7" height="1" fill="#ff0000"/><rect x="644" y="271" width="5" height="3" fill="#ff0000"/><rect x="650" y="236" width="7" height="1" fill="#ff0000"/><rect x="651" y="235" width="5" height="3" fill="#ff0000"/><rect x="657" y="250" width="7" height="1" fill="#ff0000"/><rect x="658" y="249" width="5" height="3" fill="#ff0000"/><rect x="664" y="249" width="7" height="1" fill="#ff0000"/><rect x="665" y="248" width="5" height="3" fill="#ff0000"/><rect x="670" y="269" width="7" height="1" fill="#ff0000"/><rect x="671" y="268" width="5" height="3" fill="#ff0000"/><rect x="677" y="276" width="7" height="1" fill="#ff0000"/><rect x="678" y="275" width="5" height="3" fill="#ff0000"/><rect x="684" y="265" width="7" height="1" fill="#ff0000"/><rect x="685" y="264" width="5" height="3" fill="#ff0000"/><rect x="691" y="288" width="7" height="1" fill="#ff0000"/><rect x="692" y="287" width="5" height="3" fill="#ff0000"/><rect x="698" y="280" width="7" height="1" fill="#ff0000"/><rect x="699" y="279" width="5" height="3" fill="#ff0000"/><rect x="705" y="288" width="7" height="1" fill="#ff0000"/><rect x="706" y="287" width="5" height="3" fill="#ff0000"/><rect x="712" y="337" width="7" height="1" fill="#ff0000"/><rect x="713" y="336" width="5" height="3" fill="#ff0000"/><rect x="719" y="359" width="7" height="1" fill="#ff0000"/><rect x="720" y="358" width="5" height="3" fill="#ff0000"/><rect x="726" y="356" width="7" height="1" fill="#ff0000"/><rect x="727" y="355" width="5" height="3" fill="#ff0000"/><rect x="733" y="369" width="7" height="1" fill="#ff0000"/><rect x="734" y="368" width="5" height="3" fill="#ff0000"/><rect x="740" y="378" width="7" height="1" fill="#ff0000"/><rect x="741" y="377" width="5" height="3" fill="#ff0000"/><rect x="747" y="411" width="7" height="1" fill="#ff0000"/><rect x="748" y="410" width="5" height="3" fill="#ff0000"/><rect x="754" y="480" width="7" height="1" fill="#ff0000"/><rect x="755" y="479" width="5" height="3" fill="#ff0000"/><rect x="761" y="464" width="7" height="1" fill="#ff0000"/><rect x="762" y="463" width="5" height="3" fill="#ff0000"/><rect x="768" y="463" width="7" height="1" fill="#ff0000"/><rect x="769" y="462" width="5" height="3" fill="#ff0000"/><rect x="775" y="461" width="7" height="1" fill="#ff0000"/><rect x="776" y="460" width="5" height="3" fill="#ff0000"/><rect x="781" y="393" width="7" height="1" fill="#ff0000"/><rect x="782" y="392" width="5" height="3" fill="#ff0000"/><rect x="788" y="417" width="7" height="1" fill="#ff0000"/><rect x="789" y="416" width="5" height="3" fill="#ff0000"/><rect x="795" y="388" width="7" height="1" fill="#ff0000"/><rect x="796" y="387" width="5" height="3" fill="#ff0000"/><rect x="802" y="401" width="7" height="1" fill="#ff0000"/><rect x="803" y="400" width="5" height="3" fill="#ff0000"/><rect x="809" y="404" width="7" height="1" fill="#ff0000"/><rect x="810" y="403" width="5" height="3" fill="#ff0000"/><rect x="816" y="421" width="7" height="1" fill="#ff0000"/><rect x="817" y="420" width="5" height="3" fill="#ff0000"/><rect x="823" y="405" width="7" height="1" fill="#ff0000"/><rect x="824" y="404" width="5" height="3" fill="#ff0000"/><rect x="830" y="398" width="7" height="1" fill="#ff0000"/><rect x="831" y="397" width="5" height="3" fill="#ff0000"/><rect x="837" y="393" width="7" height="1" fill="#ff0000"/><rect x="838" y="392" width="5" height="3" fill="#ff0000"/><rect x="844" y="380" width="7" height="1" fill="#ff0000"/><rect x="845" y="379" width="5" height="3" fill="#ff0000"/><rect x="851" y="375" width="7" height="1" fill="#ff0000"/><rect x="852" y="374" width="5" height="3" fill="#ff0000"/><rect x="858" y="370" width="7" height="1" fill="#ff0000"/><rect x="859" y="369" width="5" height="3" fill="#ff0000"/><rect x="865" y="380" width="7" height="1" fill="#ff0000"/><rect x="866" y="379" width="5" height="3" fill="#ff0000"/><rect x="872" y="387" width="7" height="1" fill="#ff0000"/><rect x="873" y="386" width="5" height="3" fill="#ff0000"/><rect x="879" y="405" width="7" height="1" fill="#ff0000"/><rect x="880" y="404" width="5" height="3" fill="#ff0000"/><rect x="886" y="404" width="7" height="1" fill="#ff0000"/><rect x="887" y="403" width="5" height="3" fill="#ff0000"/><rect x="892" y="394" width="7" height="1" fill="#ff0000"/><rect x="893" y="393" width="5" height="3" fill="#ff0000"/><rect x="899" y="392" width="7" height="1" fill="#ff0000"/><rect x="900" y="391" width="5" height="3" fill="#ff0000"/><rect x="906" y="397" width="7" height="1" fill="#ff0000"/><rect x="907" y="396" width="5" height="3" fill="#ff0000"/><rect x="913" y="376" width="7" height="1" fill="#ff0000"/><rect x="914" y="375" width="5" height="3" fill="#ff0000"/><rect x="920" y="394" width="7" height="1" fill="#ff0000"/><rect x="921" y="393" width="5" height="3" fill="#ff0000"/><rect x="927" y="431" width="7" height="1" fill="#ff0000"/><rect x="928" y="430" width="5" height="3" fill="#ff0000"/><rect x="934" y="431" width="7" height="1" fill="#ff0000"/><rect x="935" y="430" width="5" height="3" fill="#ff0000"/></g><g><rect x="49" y="289" width="7" height="1" fill="#0000ff"/><rect x="50" y="288" width="5" height="3" fill="#0000ff"/><rect x="56" y="269" width="7" height="1" fill="#0000ff"/><rect x="57" y="268" width="5" height="3" fill="#0000ff"/><rect x="63" y="255" width="7" height="1" fill="#0000ff"/><rect x="64" y="254" width="5" height="3" fill="#0000ff"/><rect x="70" y="248" width="7" height="1" fill="#0000ff"/><rect x="71" y="247" width="5" height="3" fill="#0000ff"/><rect x="77" y="227" width="7" height="1" fill="#0000ff"/><rect x="78" y="226" width="5" height="3" fill="#0000ff"/><rect x="84" y="234" width="7" height="1" fill="#0000ff"/><rect x="85" y="233" width="5" height="3" fill="#0000ff"/><rect x="91" y="241" width="7" height="1" fill="#0000ff"/><rect x="92" y="240" width="5" height="3" fill="#0000ff"/><rect x="98" y="248" width="7" height="1" fill="#0000ff"/><rect x="99" y="247" width="5" height="3" fill="#0000ff"/><rect x="105" y="269" width="7" height="1" fill="#0000ff"/><rect x="106" y="268" width="5" height="3" fill="#0000ff"/><rect x="111" y="282" width="7" height="1" fill="#0000ff"/><rect x="112" y="281" width="5" height="3" fill="#0000ff"/><rect x="118" y="262" width="7" height="1" fill="#0000ff"/><rect x="119" y="261" width="5" height="3" fill="#0000ff"/><rect x="125" y="255" width="7" height="1" fill="#0000ff"/><rect x="126" y="254" width="5" height="3" fill="#0000ff"/><rect x="132" y="255" width="7" height="1" fill="#0000ff"/><rect x="133" y="254" width="5" height="3" fill="#0000ff"/><rect x="139" y="253" width="7" height="1" fill="#0000ff"/><rect x="140" y="252" width="5" height="3" fill="#0000ff"/><rect x="146" y="241" width="7" height="1" fill="#0000ff"/><rect x="147" y="240" width="5" height="3" fill="#0000ff"/><rect x="153" y="234" width="7" height="1" fill="#0000ff"/><rect x="154" y="233" width="5" height="3" fill="#0000ff"/><rect x="160" y="220" width="7" height="1" fill="#0000ff"/><rect x="161" y="219" width="5" height="3" fill="#0000ff"/><rect x="167" y="227" width="7" height="1" fill="#0000ff"/><rect x="168" y="226" width="5" height="3" fill="#0000ff"/><rect x="174" y="241" width="7" height="1" fill="#0000ff"/><rect x="175" y="240" width="5" height="3" fill="#0000ff"/><rect x="181" y="241" width="7" height="1" fill="#0000ff"/><rect x="182" y="240" width="5" height="3" fill="#0000ff"/><rect x="188" y="199" width="7" height="1" fill="#0000ff"/><rect x="189" y="198" width="5" height="3" fill="#0000ff"/><rect x="195" y="185" width="7" height="1" fill="#0000ff"/><rect x="196" y="184" width="5" height="3" fill="#0000ff"/><rect x="202" y="213" width="7" height="1" fill="#0000ff"/><rect x="203" y="212" width="5" height="3" fill="#0000ff"/><rect x="209" y="220" width="7" height="1" fill="#0000ff"/><rect x="210" y="219" width="5" height="3" fill="#0000ff"/><rect x="216" y="227" width="7" height="1" fill="#0000ff"/><rect x="217" y="226" width="5" height="3" fill="#0000ff"/><rect x="222" y="199" width="7" height="1" fill="#0000ff"/><rect x="223" y="198" width="5" height="3" fill="#0000ff"/><rect x="229" y="178" width="7" height="1" fill="#0000ff"/><rect x="230" y="177" width="5" height="3" fill="#0000ff"/><rect x="236" y="171" width="7" height="1" fill="#0000ff"/><rect x="237" y="170" width="5" height="3" fill="#0000ff"/><rect x="243" y="151" width="7" height="1" fill="#0000ff"/><rect x="244" y="150" width="5" height="3" fill="#0000ff"/><rect x="250" y="123" width="7" height="1" fill="#0000ff"/><rect x="251" y="122" width="5" height="3" fill="#0000ff"/><rect x="257" y="137" width="7" height="1" fill="#0000ff"/><rect x="258" y="136" width="5" height="3" fill="#0000ff"/><rect x="264" y="137" width="7" height="1" fill="#0000ff"/><rect x="265" y="136" width="5" height="3" fill="#0000ff"/><rect x="271" y="116" width="7" height="1" fill="#0000ff"/><rect x="272" y="115" width="5" height="3" fill="#0000ff"/><rect x="278" y="102" width="7" height="1" fill="#0000ff"/><rect x="279" y="101" width="5" height="3" fill="#0000ff"/><rect x="285" y="81" width="7" height="1" fill="#0000ff"/><rect x="286" y="80" width="5" height="3" fill="#0000ff"/><rect x="292" y="102" width="7" height="1" fill="#0000ff"/><rect x="293" y="101" width="5" height="3" fill="#0000ff"/><rect x="299" y="88" width="7" height="1" fill="#0000ff"/><rect x="300" y="87" width="5" height="3" fill="#0000ff"/><rect x="306" y="74" width="7" height="1" fill="#0000ff"/><rect x="307" y="73" width="5" height="3" fill="#0000ff"/><rect x="313" y="74" width="7" height="1" fill="#0000ff"/><rect x="314" y="73" width="5" height="3" fill="#0000ff"/><rect x="320" y="61" width="7" height="1" fill="#0000ff"/><rect x="321" y="60" width="5" height="3" fill="#0000ff"/><rect x="333" y="88" width="7" height="1" fill="#0000ff"/><rect x="334" y="87" width="5" height="3" fill="#0000ff"/><rect x="340" y="61" width="7" height="1" fill="#0000ff"/><rect x="341" y="60" width="5" height="3" fill="#0000ff"/><rect x="347" y="88" width="7" height="1" fill="#0000ff"/><rect x="348" y="87" width="5" height="3" fill="#0000ff"/><rect x="354" y="88" width="7" height="1" fill="#0000ff"/><rect x="355" y="87" width="5" height="3" fill="#0000ff"/><rect x="361" y="74" width="7" height="1" fill="#0000ff"/><rect x="362" y="73" width="5" height="3" fill="#0000ff"/><rect x="368" y="54" width="7" height="1" fill="#0000ff"/><rect x="369" y="53" width="5" height="3" fill="#0000ff"/><rect x="375" y="61" width="7" height="1" fill="#0000ff"/><rect x="376" y="60" width="5" height="3" fill="#0000ff"/><rect x="382" y="54" width="7" height="1" fill="#0000ff"/><rect x="383" y="53" width="5" height="3" fill="#0000ff"/><rect x="389" y="50" width="7" height="1" fill="#0000ff"/><rect x="390" y="49" width="5" height="3" fill="#0000ff"/><rect x="396" y="61" width="7" height="1" fill="#0000ff"/><rect x="397" y="60" width="5" height="3" fill="#0000ff"/><rect x="403" y="68" width="7" height="1" fill="#0000ff"/><rect x="404" y="67" width="5" height="3" fill="#0000ff"/><rect x="410" y="102" width="7" height="1" fill="#0000ff"/><rect x="411" y="101" width="5" height="3" fill="#0000ff"/><rect x="417" y="109" width="7" height="1" fill="#0000ff"/><rect x="418" y="108" width="5" height="3" fill="#0000ff"/><rect x="431" y="185" width="7" height="1" fill="#0000ff"/><rect x="432" y="184" width="5" height="3" fill="#0000ff"/><rect x="438" y="158" width="7" height="1" fill="#0000ff"/><rect x="439" y="157" width="5" height="3" fill="#0000ff"/><rect x="444" y="158" width="7" height="1" fill="#0000ff"/><rect x="445" y="157" width="5" height="3" fill="#0000ff"/><rect x="451" y="171" width="7" height="1" fill="#0000ff"/><rect x="452" y="170" width="5" height="3" fill="#0000ff"/><rect x="458" y="171" width="7" height="1" fill="#0000ff"/><rect x="459" y="170" width="5" height="3" fill="#0000ff"/><rect x="465" y="185" width="7" height="1" fill="#0000ff"/><rect x="466" y="184" width="5" height="3" fill="#0000ff"/><rect x="472" y="185" width="7" height="1" fill="#0000ff"/><rect x="473" y="184" width="5" height="3" fill="#0000ff"/><rect x="479" y="178" width="7" height="1" fill="#0000ff"/><rect x="480" y="177" width="5" height="3" fill="#0000ff"/><rect x="486" y="165" width="7" height="1" fill="#0000ff"/><rect x="487" y="164" width="5" height="3" fill="#0000ff"/><rect x="493" y="158" width="7" height="1" fill="#0000ff"/><rect x="494" y="157" width="5" height="3" fill="#0000ff"/><rect x="500" y="130" width="7" height="1" fill="#0000ff"/><rect x="501" y="129" width="5" height="3" fill="#0000ff"/><rect x="507" y="137" width="7" height="1" fill="#0000ff"/><rect x="508" y="136" width="5" height="3" fill="#0000ff"/><rect x="514" y="154" width="7" height="1" fill="#0000ff"/><rect x="515" y="153" width="5" height="3" fill="#0000ff"/><rect x="521" y="151" width="7" height="1" fill="#0000ff"/><rect x="522" y="150" width="5" height="3" fill="#0000ff"/><rect x="528" y="171" width="7" height="1" fill="#0000ff"/><rect x="529" y="170" width="5" height="3" fill="#0000ff"/><rect x="535" y="174" width="7" height="1" fill="#0000ff"/><rect x="536" y="173" width="5" height="3" fill="#0000ff"/><rect x="542" y="159" width="7" height="1" fill="#0000ff"/><rect x="543" y="158" width="5" height="3" fill="#0000ff"/><rect x="549" y="152" width="7" height="1" fill="#0000ff"/><rect x="550" y="151" width="5" height="3" fill="#0000ff"/><rect x="562" y="161" width="7" height="1" fill="#0000ff"/><rect x="563" y="160" width="5" height="3" fill="#0000ff"/><rect x="569" y="206" width="7" height="1" fill="#0000ff"/><rect x="570" y="205" width="5" height="3" fill="#0000ff"/><rect x="576" y="237" width="7" height="1" fill="#0000ff"/><rect x="577" y="236" width="5" height="3" fill="#0000ff"/><rect x="583" y="248" width="7" height="1" fill="#0000ff"/><rect x="584" y="247" width="5" height="3" fill="#0000ff"/><rect x="590" y="216" width="7" height="1" fill="#0000ff"/><rect x="591" y="215" width="5" height="3" fill="#0000ff"/><rect x="597" y="236" width="7" height="1" fill="#0000ff"/><rect x="598" y="235" width="5" height="3" fill="#0000ff"/><rect x="604" y="267" width="7" height="1" fill="#0000ff"/><rect x="605" y="266" width="5" height="3" fill="#0000ff"/><rect x="611" y="256" width="7" height="1" fill="#0000ff"/><rect x="612" y="255" width="5" height="3" fill="#0000ff"/><rect x="618" y="265" width="7" height="1" fill="#0000ff"/><rect x="619" y="264" width="5" height="3" fill="#0000ff"/><rect x="625" y="270" width="7" height="1" fill="#0000ff"/><rect x="626" y="269" width="5" height="3" fill="#0000ff"/><rect x="632" y="274" width="7" height="1" fill="#0000ff"/><rect x="633" y="273" width="5" height="3" fill="#0000ff"/><rect x="639" y="257" width="7" height="1" fill="#0000ff"/><rect x="640" y="256" width="5" height="3" fill="#0000ff"/><rect x="646" y="274" width="7" height="1" fill="#0000ff"/><rect x="647" y="273" width="5" height="3" fill="#0000ff"/><rect x="653" y="241" width="7" height="1" fill="#0000ff"/><rect x="654" y="240" width="5" height="3" fill="#0000ff"/><rect x="660" y="249" width="7" height="1" fill="#0000ff"/><rect x="661" y="248" width="5" height="3" fill="#0000ff"/><rect x="666" y="250" width="7" height="1" fill="#0000ff"/><rect x="667" y="249" width="5" height="3" fill="#0000ff"/><rect x="673" y="274" width="7" height="1" fill="#0000ff"/><rect x="674" y="273" width="5" height="3" fill="#0000ff"/><rect x="680" y="281" width="7" height="1" fill="#0000ff"/><rect x="681" y="280" width="5" height="3" fill="#0000ff"/><rect x="687" y="262" width="7" height="1" fill="#0000ff"/><rect x="688" y="261" width="5" height="3" fill="#0000ff"/><rect x="694" y="293" width="7" height="1" fill="#0000ff"/><rect x="695" y="292" width="5" height="3" fill="#0000ff"/><rect x="701" y="285" width="7" height="1" fill="#0000ff"/><rect x="702" y="284" width="5" height="3" fill="#0000ff"/><rect x="708" y="293" width="7" height="1" fill="#0000ff"/><rect x="709" y="292" width="5" height="3" fill="#0000ff"/><rect x="715" y="327" width="7" height="1" fill="#0000ff"/><rect x="716" y="326" width="5" height="3" fill="#0000ff"/><rect x="722" y="366" width="7" height="1" fill="#0000ff"/><rect x="723" y="365" width="5" height="3" fill="#0000ff"/><rect x="729" y="353" width="7" height="1" fill="#0000ff"/><rect x="730" y="352" width="5" height="3" fill="#0000ff"/><rect x="736" y="382" width="7" height="1" fill="#0000ff"/><rect x="737" y="381" width="5" height="3" fill="#0000ff"/><rect x="743" y="383" width="7" height="1" fill="#0000ff"/><rect x="744" y="382" width="5" height="3" fill="#0000ff"/><rect x="750" y="411" width="7" height="1" fill="#0000ff"/><rect x="751" y="410" width="5" height="3" fill="#0000ff"/><rect x="757" y="532" width="7" height="1" fill="#0000ff"/><rect x="758" y="531" width="5" height="3" fill="#0000ff"/><rect x="764" y="449" width="7" height="1" fill="#0000ff"/><rect x="765" y="448" width="5" height="3" fill="#0000ff"/><rect x="771" y="471" width="7" height="1" fill="#0000ff"/><rect x="772" y="470" width="5" height="3" fill="#0000ff"/><rect x="777" y="455" width="7" height="1" fill="#0000ff"/><rect x="778" y="454" width="5" height="3" fill="#0000ff"/><rect x="784" y="374" width="7" height="1" fill="#0000ff"/><rect x="785" y="373" width="5" height="3" fill="#0000ff"/><rect x="791" y="428" width="7" height="1" fill="#0000ff"/><rect x="792" y="427" width="5" height="3" fill="#0000ff"/><rect x="798" y="408" width="7" height="1" fill="#0000ff"/><rect x="799" y="407" width="5" height="3" fill="#0000ff"/><rect x="805" y="414" width="7" height="1" fill="#0000ff"/><rect x="806" y="413" width="5" height="3" fill="#0000ff"/><rect x="812" y="423" width="7" height="1" fill="#0000ff"/><rect x="813" y="422" width="5" height="3" fill="#0000ff"/><rect x="819" y="421" width="7" height="1" fill="#0000ff"/><rect x="820" y="420" width="5" height="3" fill="#0000ff"/><rect x="826" y="393" width="7" height="1" fill="#0000ff"/><rect x="827" y="392" width="5" height="3" fill="#0000ff"/><rect x="833" y="409" width="7" height="1" fill="#0000ff"/><rect x="834" y="408" width="5" height="3" fill="#0000ff"/><rect x="840" y="399" width="7" height="1" fill="#0000ff"/><rect x="841" y="398" width="5" height="3" fill="#0000ff"/><rect x="847" y="386" width="7" height="1" fill="#0000ff"/><rect x="848" y="385" width="5" height="3" fill="#0000ff"/><rect x="854" y="382" width="7" height="1" fill="#0000ff"/><rect x="855" y="381" width="5" height="3" fill="#0000ff"/><rect x="861" y="382" width="7" height="1" fill="#0000ff"/><rect x="862" y="381" width="5" height="3" fill="#0000ff"/><rect x="868" y="388" width="7" height="1" fill="#0000ff"/><rect x="869" y="387" width="5" height="3" fill="#0000ff"/><rect x="875" y="396" width="7" height="1" fill="#0000ff"/><rect x="876" y="395" width="5" height="3" fill="#0000ff"/><rect x="882" y="414" width="7" height="1" fill="#0000ff"/><rect x="883" y="413" width="5" height="3" fill="#0000ff"/><rect x="888" y="395" width="7" height="1" fill="#0000ff"/><rect x="889" y="394" width="5" height="3" fill="#0000ff"/><rect x="895" y="395" width="7" height="1" fill="#0000ff"/><rect x="896" y="394" width="5" height="3" fill="#0000ff"/><rect x="902" y="398" width="7" height="1" fill="#0000ff"/><rect x="903" y="397" width="5" height="3" fill="#0000ff"/><rect x="909" y="401" width="7" height="1" fill="#0000ff"/><rect x="910" y="400" width="5" height="3" fill="#0000ff"/><rect x="916" y="385" width="7" height="1" fill="#0000ff"/><rect x="917" y="384" width="5" height="3" fill="#0000ff"/><rect x="923" y="405" width="7" height="1" fill="#0000ff"/><rect x="924" y="404" width="5" height="3" fill="#0000ff"/><rect x="930" y="438" width="7" height="1" fill="#0000ff"/><rect x="931" y="437" width="5" height="3" fill="#0000ff"/><rect x="937" y="442" width="7" height="1" fill="#0000ff"/><rect x="938" y="441" width="5" height="3" fill="#0000ff"/></g>
<g clip-path="url(#cp)">
<g><rect x="214" y="233" width="7" height="7" fill="#ffff00"/><rect x="200" y="141" width="7" height="7" fill="#ffff00"/><rect x="209" y="131" width="7" height="7" fill="#ffff00"/><rect x="193" y="203" width="7" height="7" fill="#ffff00"/><rect x="199" y="253" width="7" height="7" fill="#ffff00"/><rect x="225" y="254" width="7" height="7" fill="#ffff00"/><rect x="277" y="174" width="7" height="7" fill="#ffff00"/><rect x="320" y="126" width="7" height="7" fill="#ffff00"/><rect x="360" y="111" width="7" height="7" fill="#ffff00"/><rect x="348" y="389" width="7" height="7" fill="#ffff00"/><rect x="427" y="133" width="7" height="7" fill="#ffff00"/><rect x="437" y="117" width="7" height="7" fill="#ffff00"/><rect x="452" y="106" width="7" height="7" fill="#ffff00"/><rect x="482" y="88" width="7" height="7" fill="#ffff00"/><rect x="512" y="117" width="7" height="7" fill="#ffff00"/><rect x="532" y="134" width="7" height="7" fill="#ffff00"/><rect x="548" y="110" width="7" height="7" fill="#ffff00"/><rect x="490" y="270" width="7" height="7" fill="#ffff00"/><rect x="586" y="177" width="7" height="7" fill="#ffff00"/></g>
<path d="M54,293.5h2m0,-1h4m0,-1h4m0,-1h4m0,-1h4m0,-1h4m0,-1h4m0,-1h4m0,-1h4m0,-1h4m0,-1h4m0,-1h4m0,-1h4m0,-1h4m0,-1h4m0,-1h4m0,-1h4m0,-1h4m0,-1h4m0,-1h4m0,-1h4m0,-1h4m0,-1h4m0,-1h4m0,-1h4m0,-1h4m0,-1h4m0,-1h4m0,-1h4m0,-1h4m0,-1h4m0,-1h4m0,-1h4m0,-1h4m0,-1h4m0,-1h4m0,-1h4m0,-1h4m0,-1h4m0,-1h4m0,-1h4m0,-1h4m0,-1h4m0,-1h4m0,-1h4m0,-1h4m0,-1h4m0,-1h4m0,-1h4m0,-1h4m0,-1h4m0,-1h4m0,-1h4m0,-1h4m0,-1h4m0,-1h4m0,-1h4m0,-1h4m0,-1h4m0,-1h4m0,-1h4m0,-1h4m0,-1h4m0,-1h4m0,-1h4m0,-1h4m0,-1h4m0,-1h4m0,-1h4m0,-1h4m0,-1h4m0,-1h4m0,-1h4m0,-1h4m0,-1h4m0,-1h4m0,-1h4m0,-1h4m0,-1h4m0,-1h4m0,-1h4m0,-1h4m0,-1h4m0,-1h4m0,-1h4m0,-1h4m0,-1h4m0,-1h4m0,-1h4m0,-1h4m0,-1h4m0,-1h4m0,-1h4m0,-1h4m0,-1h4m0,-1h4m0,-1h4m0,-1h4m0,-1h4m0,-1h4m0,-1h4m0,-1h4m0,-1h4m0,-1h4m0,-1h4m0,-1h4m0,-1h4m0,-1h4m0,-1h4m0,-1h4m0,-1h4m0,-1h4m0,-1h4m0,-1h4m0,-1h4m0,-1h4m0,-1h4m0,-1h4m0,-1h4m0,-1h4m0,-1h4m0,-1h4m0,-1h4m0,-1h4m0,-1h4m0,-1h4m0,-1h4m0,-1h4m0,-1h4m0,-1h4m0,-1h4m0,-1h4m0,-1h4m0,-1h4m0,-1h4m0,-1h4m0,-1h4m0,-1h4m0,-1h4m0,-1h4m0,-1h4m0,-1h4m0,-1h4m0,-1h4m0,-1h4m0,-1h4m0,-1h4m0,-1h4m0,-1h5m0,-1h4m0,-1h4m0,-1h4m0,-1h4m0,-1h4m0,-1h4m0,-1h4m0,-1h4m0,-1h4m0,-1h4m0,-1h4m0,-1h4m0,-1h4m0,-1h4m0,-1h4m0,-1h4m0,-1h4m0,-1h4m0,-1h4m0,-1h4m0,-1h4m0,-1h4m0,-1h4m0,-1h4m0,-1h4m0,-1h4m0,-1h4m0,-1h4m0,-1h4m0,-1h4m0,-1h4m0,-1h4m0,-1h4m0,-1h4m0,-1h4m0,-1h4m0,-1h4m0,-1h4m0,-1h4m0,-1h4m0,-1h4m0,-1h4m0,-1h4m0,-1h4m0,-1h4m0,-1h4m0,-1h4m0,-1h4m0,-1h4m0,-1h4m0,-1h4m0,-1h4m0,-1h4m0,-1h4m0,-1h4m0,-1h4m0,-1h4m0,-1h4m0,-1h4m0,-1h4m0,-1h4m0,-1h4m0,-1h4m0,-1h4m0,-1h4m0,-1h4m0,-1h4m0,-1h4m0,-1h4m0,-1h4m0,-1h4m0,-1h4m0,-1h4m0,-1h3" stroke="#006000" stroke-width="1" fill="none"/>
<path d="M120,284.5h4m0,-1h4m0,-1h4m0,-1h4m0,-1h4m0,-1h4m0,-1h4m0,-1h5m0,-1h4m0,-1h4m0,-1h4m0,-1h4m0,-1h4m0,-1h4m0,-1h4m0,-1h4m0,-1h4m0,-1h4m0,-1h4m0,-1h5m0,-1h4m0,-1h4m0,-1h4m0,-1h4m0,-1h4m0,-1h4m0,-1h4m0,-1h4m0,-1h4m0,-1h4m0,-1h4m0,-1h5m0,-1h4m0,-1h4m0,-1h4m0,-1h4m0,-1h4m0,-1h4m0,-1h4m0,-1h4m0,-1h4m0,-1h4m0,-1h4m0,-1h5m0,-1h4m0,-1h4m0,-1h4m0,-1h4m0,-1h4m0,-1h4m0,-1h4m0,-1h4m0,-1h4m0,-1h4m0,-1h4m0,-1h5m0,-1h4m0,-1h4m0,-1h4m0,-1h4m0,-1h4m0,-1h4m0,-1h4m0,-1h4m0,-1h4m0,-1h4m0,-1h4m0,-1h5m0,-1h4m0,-1h4m0,-1h4m0,-1h4m0,-1h4m0,-1h4m0,-1h4m0,-1h4m0,-1h4m0,-1h4m0,-1h4m0,-1h5m0,-1h4m0,-1h4m0,-1h4m0,-1h4m0,-1h4m0,-1h4m0,-1h4m0,-1h4m0,-1h4m0,-1h4m0,-1h4m0,-1h5m0,-1h4m0,-1h4m0,-1h4m0,-1h4m0,-1h4m0,-1h4m0,-1h4m0,-1h4m0,-1h4m0,-1h4m0,-1h4m0,-1h5m0,-1h4m0,-1h4m0,-1h4m0,-1h4m0,-1h4m0,-1h4m0,-1h4m0,-1h4m0,-1h4m0,-1h4m0,-1h4m0,-1h5m0,-1h4m0,-1h4m0,-1h4m0,-1h4m0,-1h4m0,-1h4m0,-1h4m0,-1h4m0,-1h4m0,-1h4m0,-1h4m0,-1h5m0,-1h4m0,-1h4m0,-1h4m0,-1h4m0,-1h4m0,-1h4m0,-1h4m0,-1h4m0,-1h4m0,-1h4m0,-1h4m0,-1h5m0,-1h4m0,-1h4m0,-1h4m0,-1h4m0,-1h4m0,-1h4m0,-1h4m0,-1h4m0,-1h4m0,-1h4m0,-1h4m0,-1h5m0,-1h4m0,-1h4m0,-1h4m0,-1h4m0,-1h4m0,-1h4m0,-1h4m0,-1h4m0,-1h4m0,-1h4m0,-1h4m0,-1h5m0,-1h4m0,-1h4m0,-1h4m0,-1h4m0,-1h4m0,-1h4m0,-1h4m0,-1h4m0,-1h4m0,-1h4m0,-1h4m0,-1h5m0,-1h4m0,-1h4m0,-1h4m0,-1h4m0,-1h4m0,-1h4m0,-1h4m0,-1h4m0,-1h4m0,-1h4m0,-1h4m0,-1h5m0,-1h4m0,-1h4m0,-1h4m0,-1h4m0,-1h4m0,-1h4m0,-1h4m0,-1h4m0,-1h4m0,-1h4m0,-1h4m0,-1h5m0,-1h4m0,-1h3" stroke="#006000" stroke-width="1" fill="none"/>
<path d="M54,294.5h2m0,1h3m0,1h3m0,1h3m0,1h3m0,1h3m0,1h3m0,1h3m0,1h3m0,1h3m0,1h3m0,1h3m0,1h3m0,1h3m0,1h3m0,1h3m0,1h3m0,1h3m0,1h3m0,1h3m0,1h3m0,1h3m0,1h4m0,1h3m0,1h3m0,1h3m0,1h3m0,1h3m0,1h3m0,1h3m0,1h3m0,1h3m0,1h3m0,1h3m0,1h3m0,1h3m0,1h3m0,1h3m0,1h3m0,1h3m0,1h3m0,1h3m0,1h3m0,1h3m0,1h3m0,1h3m0,1h3m0,1h3m0,1h3m0,1h3m0,1h3m0,1h3m0,1h3m0,1h3m0,1h3m0,1h3m0,1h3m0,1h3m0,1h3m0,1h3m0,1h3m0,1h3m0,1h3m0,1h3m0,1h3m0,1h3m0,1h3m0,1h4m0,1h3m0,1h3m0,1h3m0,1h3m0,1h3m0,1h3m0,1h3m0,1h3m0,1h3m0,1h3m0,1h3m0,1h3m0,1h3m0,1h3m0,1h3m0,1h3m0,1h3m0,1h3m0,1h3m0,1h3m0,1h3m0,1h3m0,1h3m0,1h3m0,1h3m0,1h3m0,1h3m0,1h3m0,1h3m0,1h3m0,1h3m0,1h3m0,1h3m0,1h3m0,1h3m0,1h3m0,1h3m0,1h3m0,1h3m0,1h3m0,1h3m0,1h3m0,1h3m0,1h4m0,1h3m0,1h3m0,1h3m0,1h3m0,1h3m0,1h3m0,1h3m0,1h3m0,1h3m0,1h3m0,1h3m0,1h3m0,1h3m0,1h3m0,1h3m0,1h3m0,1h3m0,1h3m0,1h3m0,1h3m0,1h3m0,1h3m0,1h3m0,1h3m0,1h3m0,1h3m0,1h3m0,1h3m0,1h3m0,1h3m0,1h3m0,1h3m0,1h3m0,1h3m0,1h3m0,1h3m0,1h3m0,1h3m0,1h3m0,1h3m0,1h3m0,1h3m0,1h3m0,1h3m0,1h4m0,1h3m0,1h3m0,1h3m0,1h3m0,1h3m0,1h3m0,1h3m0,1h3m0,1h3m0,1h3m0,1h3m0,1h3m0,1h3m0,1h3m0,1h3m0,1h3m0,1h3m0,1h3m0,1h3m0,1h3m0,1h3m0,1h3m0,1h3m0,1h3m0,1h3m0,1h3m0,1h3m0,1h3m0,1h3m0,1h3m0,1h3m0,1h3m0,1h3m0,1h3m0,1h3m0,1h3m0,1h3m0,1h3m0,1h3m0,1h3m0,1h3m0,1h3m0,1h3m0,1h3m0,1h4m0,1h3m0,1h3m0,1h3m0,1h3m0,1h3m0,1h3m0,1h3m0,1h3m0,1h3m0,1h3m0,1h3m0,1h3m0,1h3m0,1h3m0,1h3m0,1h3m0,1h3m0,1h3m0,1h3m0,1h3m0,1h3m0,1h3m0,1h3m0,1h3m0,1h3m0,1h3m0,1h3m0,1h3m0,1h3m0,1h3m0,1h3m0,1h3m0,1h3m0,1h3m0,1h3m0,1h3m0,1h3m0,1h3m0,1h3m0,1h3m0,1h3m0,1h3m0,1h3m0,1h4m0,1h3m0,1h3m0,1h3m0,1h3m0,1h3m0,1h3m0,1h3m0,1h3m0,1h3m0,1h3m0,1h3m0,1h3m0,1h3m0,1h3m0,1h3m0,1h3m0,1h3m0,1h3m0,1h3m0,1h3m0,1h3m0,1h3m0,1h3m0,1h3m0,1h3m0,1h3m0,1h3m0,1h3m0,1h3m0,1h3m0,1h3m0,1h3m0,1h3m0,1h3m0,1h3m0,1h3m0,1h2" stroke="#00a000" stroke-width="1" fill="none"/>
<path d="M83,204.5h2m0,-1h2m0,-1h2m0,-1h2m0,-1h2m0,-1h2m0,-1h2m0,-1h2m0,-1h2m0,-1h2m0,-1h2m0,-1h2m0,-1h2m0,-1h2m0,-1h2m0,-1h2m0,-1h2m0,-1h2m0,-1h2m0,-1h2m0,-1h2m0,-1h2m0,-1h2m0,-1h2m0,-1h2m0,-1h2m0,-1h2m0,-1h2m0,-1h2m0,-1h2m0,-1h2m0,-1h2m0,-1h2m0,-1h2m0,-1h2m0,-1h2m0,-1h2m0,-1h2m0,-1h2m0,-1h2m0,-1h2m0,-1h2m0,-1h2m0,-1h2m0,-1h2m0,-1h2m0,-1h2m0,-1h2m0,-1h2m0,-1h2m0,-1h2m0,-1h2m0,-1h2m0,-1h2m0,-1h2m0,-1h2m0,-1h2m0,-1h2m0,-1h2m0,-1h2m0,-1h2m0,-1h2m0,-1h2m0,-1h2m0,-1h2m0,-1h2m0,-1h2m0,-1h2m0,-1h2m0,-1h2m0,-1h2m0,-1h2m0,-1h2m0,-1h2m0,-1h2m0,-1h2m0,-1h2m0,-1h2m0,-1h2m0,-1h1m0,-1h2m0,-1h2m0,-1h2m0,-1h2m0,-1h2m0,-1h2m0,-1h2m0,-1h2m0,-1h2m0,-1h2m0,-1h2m0,-1h2m0,-1h2m0,-1h2m0,-1h2m0,-1h2m0,-1h2m0,-1h2m0,-1h2m0,-1h2m0,-1h2m0,-1h2m0,-1h2m0,-1h2m0,-1h2m0,-1h2m0,-1h2m0,-1h2m0,-1h2m0,-1h2m0,-1h2m0,-1h2m0,-1h2m0,-1h2m0,-1h2m0,-1h2m0,-1h2m0,-1h2m0,-1h2m0,-1h2m0,-1h2m0,-1h2m0,-1h2m0,-1h2m0,-1h2m0,-1h2m0,-1h2m0,-1h2m0,-1h2m0,-1h2m0,-1h2m0,-1h2m0,-1h2m0,-1h2m0,-1h2m0,-1h2m0,-1h2m0,-1h2m0,-1h2m0,-1h2m0,-1h2m0,-1h2m0,-1h2m0,-1h2m0,-1h2m0,-1h2m0,-1h2m0,-1h2m0,-1h2m0,-1h2m0,-1h2m0,-1h2m0,-1h2m0,-1h2m0,-1h2m0,-1h2m0,-1h2m0,-1h2m0,-1h2m0,-1h2m0,-1h2m0,-1h2m0,-1h2m0,-1h2m0,-1h2m0,-1h2m0,-1h2m0,-1h2m0,-1h2m0,-1h2m0,-1h2m0,-1h2m0,-1h2m0,-1h2m0,-1h2m0,-1h2m0,-1h2m0,-1h2m0,-1h2m0,-1h2m0,-1h2m0,-1h2m0,-1h2m0,-1h2m0,-1h2m0,-1h2m0,-1h2m0,-1h2m0,-1h2m0,-1h2m0,-1h2m0,-1h2m0,-1h2m0,-1h2m0,-1h2m0,-1h2m0,-1h2m0,-1h2m0,-1h2" stroke="#0000ff" stroke-width="1" fill="none"/>
<path d="M54,290.5h1m0,-1h2m0,-1h2m0,-1h2m0,-1h2m0,-1h2m0,-1h2m0,-1h2m0,-1h2m0,-1h2m0,-1h2m0,-1h2m0,-1h2m0,-1h2m0,-1h2m0,-1h2m0,-1h2m0,-1h2m0,-1h2m0,-1h2m0,-1h2m0,-1h2m0,-1h2m0,-1h2m0,-1h2m0,-1h2m0,-1h2m0,-1h2m0,-1h2m0,-1h2m0,-1h2m0,-1h2m0,-1h2m0,-1h2m0,-1h2m0,-1h2m0,-1h2m0,-1h2m0,-1h2m0,-1h2m0,-1h2m0,-1h2m0,-1h2m0,-1h2m0,-1h2m0,-1h2m0,-1h2m0,-1h2m0,-1h2m0,-1h2m0,-1h2m0,-1h2m0,-1h2m0,-1h2m0,-1h2m0,-1h2m0,-1h2m0,-1h2m0,-1h2m0,-1h2m0,-1h2m0,-1h2m0,-1h2m0,-1h2m0,-1h2m0,-1h2m0,-1h2m0,-1h2m0,-1h2m0,-1h2m0,-1h2m0,-1h2m0,-1h2m0,-1h2m0,-1h2m0,-1h2m0,-1h2m0,-1h2m0,-1h2m0,-1h2m0,-1h2m0,-1h2m0,-1h2m0,-1h2m0,-1h2m0,-1h2m0,-1h2m0,-1h2m0,-1h2m0,-1h2m0,-1h2m0,-1h2m0,-1h2m0,-1h2m0,-1h2m0,-1h2m0,-1h2m0,-1h2m0,-1h2m0,-1h2m0,-1h2m0,-1h2m0,-1h2m0,-1h2m0,-1h2m0,-1h2m0,-1h2m0,-1h2m0,-1h2m0,-1h2m0,-1h2m0,-1h2m0,-1h2m0,-1h2m0,-1h2m0,-1h2m0,-1h2m0,-1h2m0,-1h2m0,-1h2m0,-1h2m0,-1h2m0,-1h2m0,-1h2m0,-1h2m0,-1h2m0,-1h2m0,-1h2m0,-1h2m0,-1h2m0,-1h2m0,-1h2m0,-1h2m0,-1h2m0,-1h2m0,-1h2m0,-1h2m0,-1h2m0,-1h2m0,-1h2m0,-1h2m0,-1h2m0,-1h2m0,-1h2m0,-1h2m0,-1h2m0,-1h2m0,-1h2m0,-1h2m0,-1h2m0,-1h2m0,-1h2m0,-1h2m0,-1h2m0,-1h2m0,-1h2m0,-1h2m0,-1h2m0,-1h2m0,-1h2m0,-1h2m0,-1h2m0,-1h2m0,-1h2m0,-1h2m0,-1h2m0,-1h2m0,-1h2m0,-1h2m0,-1h2m0,-1h2m0,-1h2m0,-1h2m0,-1h2m0,-1h2m0,-1h2m0,-1h2m0,-1h2m0,-1h2m0,-1h2m0,-1h2m0,-1h2m0,-1h2m0,-1h2m0,-1h2m0,-1h2m0,-1h2m0,-1h2m0,-1h2m0,-1h2m0,-1h2m0,-1h2m0,-1h2m0,-1h2m0,-1h2m0,-1h2m0,-1h2m0,-1h2m0,-1h2m0,-1h2m0,-1h2m0,-1h2m0,-1h2m0,-1h2m0,-1h2m0,-1h2m0,-1h2m0,-1h2m0,-1h2m0,-1h2m0,-1h2m0,-1h2m0,-1h2m0,-1h2m0,-1h2m0,-1h2m0,-1h2m0,-1h2m0,-1h2m0,-1h2m0,-1h2m0,-1h2m0,-1h2m0,-1h2m0,-1h2m0,-1h2m0,-1h2m0,-1h2m0,-1h2m0,-1h2m0,-1h2m0,-1h2m0,-1h2m0,-1h2m0,-1h2m0,-1h2m0,-1h2m0,-1h2m0,-1h2m0,-1h2m0,-1h2m0,-1h2m0,-1h2m0,-1h2m0,-1h2m0,-1h2m0,-1h2m0,-1h2m0,-1h2m0,-1h2m0,-1h2m0,-1h2m0,-1h2m0,-1h2m0,-1h2m0,-1h2m0,-1h2m0,-1h2m0,-1h2m0,-1h2m0,-1h2m0,-1h2m0,-1h2m0,-1h2m0,-1h2m0,-1h2m0,-1h2m0,-1h2m0,-1h2m0,-1h2m0,-1h2m0,-1h2m0,-1h2m0,-1h2m0,-1h2m0,-1h2m0,-1h2m0,-1h2m0,-1h2m0,-1h2m0,-1h2m0,-1h2m0,-1h2m0,-1h2m0,-1h2" stroke="#0000ff" stroke-width="1" fill="none"/>
<path d="M120,284.5h1m0,-1h2m0,-1h2m0,-1h2m0,-1h2m0,-1h2m0,-1h2m0,-1h2m0,-1h3m0,-1h2m0,-1h2m0,-1h2m0,-1h2m0,-1h2m0,-1h2m0,-1h2m0,-1h2m0,-1h2m0,-1h2m0,-1h2m0,-1h2m0,-1h2m0,-1h2m0,-1h2m0,-1h2m0,-1h2m0,-1h2m0,-1h2m0,-1h2m0,-1h2m0,-1h2m0,-1h2m0,-1h2m0,-1h2m0,-1h2m0,-1h2m0,-1h2m0,-1h2m0,-1h2m0,-1h2m0,-1h2m0,-1h2m0,-1h2m0,-1h2m0,-1h2m0,-1h2m0,-1h2m0,-1h2m0,-1h2m0,-1h2m0,-1h2m0,-1h2m0,-1h3m0,-1h2m0,-1h2m0,-1h2m0,-1h2m0,-1h2m0,-1h2m0,-1h2m0,-1h2m0,-1h2m0,-1h2m0,-1h2m0,-1h2m0,-1h2m0,-1h2m0,-1h2m0,-1h2m0,-1h2m0,-1h2m0,-1h2m0,-1h2m0,-1h2m0,-1h2m0,-1h2m0,-1h2m0,-1h2m0,-1h2m0,-1h2m0,-1h2m0,-1h2m0,-1h2m0,-1h2m0,-1h2m0,-1h2m0,-1h2m0,-1h2m0,-1h2m0,-1h2m0,-1h2m0,-1h2m0,-1h2m0,-1h2m0,-1h2m0,-1h2m0,-1h3m0,-1h2m0,-1h2m0,-1h2m0,-1h2m0,-1h2m0,-1h2m0,-1h2m0,-1h2m0,-1h2m0,-1h2m0,-1h2m0,-1h2m0,-1h2m0,-1h2m0,-1h2m0,-1h2m0,-1h2m0,-1h2m0,-1h2m0,-1h2m0,-1h2m0,-1h2m0,-1h2m0,-1h2m0,-1h2m0,-1h2m0,-1h2m0,-1h2m0,-1h2m0,-1h2m0,-1h2m0,-1h2m0,-1h2m0,-1h2m0,-1h2m0,-1h2m0,-1h2m0,-1h2m0,-1h2m0,-1h2m0,-1h2m0,-1h2m0,-1h2m0,-1h3m0,-1h2m0,-1h2m0,-1h2m0,-1h2m0,-1h2m0,-1h2m0,-1h2m0,-1h2m0,-1h2m0,-1h2m0,-1h2m0,-1h2m0,-1h2m0,-1h2m0,-1h2m0,-1h2m0,-1h2m0,-1h2m0,-1h2m0,-1h2m0,-1h2m0,-1h2m0,-1h2m0,-1h2m0,-1h2m0,-1h2m0,-1h2m0,-1h2m0,-1h2m0,-1h2m0,-1h2m0,-1h2m0,-1h2m0,-1h2m0,-1h2m0,-1h2m0,-1h2m0,-1h2m0,-1h2m0,-1h2m0,-1h2m0,-1h2m0,-1h2m0,-1h3m0,-1h2m0,-1h2m0,-1h2m0,-1h2m0,-1h2m0,-1h2m0,-1h2m0,-1h2m0,-1h2m0,-1h2m0,-1h2m0,-1h2m0,-1h2m0,-1h2m0,-1h2m0,-1h2m0,-1h2m0,-1h2m0,-1h2m0,-1h2m0,-1h2m0,-1h2m0,-1h2m0,-1h2m0,-1h2m0,-1h2m0,-1h2m0,-1h2m0,-1h2m0,-1h2m0,-1h2m0,-1h2m0,-1h2m0,-1h2m0,-1h2m0,-1h2m0,-1h2m0,-1h2m0,-1h2m0,-1h2m0,-1h2m0,-1h2m0,-1h2m0,-1h3m0,-1h2m0,-1h2m0,-1h2m0,-1h2m0,-1h2m0,-1h2m0,-1h2m0,-1h2m0,-1h2m0,-1h2m0,-1h2m0,-1h2m0,-1h2m0,-1h2m0,-1h2m0,-1h2m0,-1h2m0,-1h2m0,-1h2m0,-1h2m0,-1h2m0,-1h2m0,-1h2m0,-1h2m0,-1h2m0,-1h2m0,-1h2m0,-1h2m0,-1h2m0,-1h2m0,-1h2m0,-1h2m0,-1h2m0,-1h2m0,-1h2m0,-1h2m0,-1h2m0,-1h2m0,-1h2m0,-1h2m0,-1h2m0,-1h2m0,-1h2m0,-1h3m0,-1h2m0,-1h2m0,-1h2m0,-1h2m0,-1h2m0,-1h1" stroke="#0000ff" stroke-width="1" fill="none"/>
<path d="M329,35.5h2m0,1h2m0,1h2m0,1h2m0,1h2m0,1h2m0,1h2m0,1h2m0,1h2m0,1h2m0,1h2m0,1h2m0,1h2m0,1h2m0,1h2m0,1h2m0,1h2m0,1h2m0,1h2m0,1h2m0,1h2m0,1h2m0,1h2m0,1h2m0,1h2m0,1h2m0,1h2m0,1h2m0,1h2m0,1h2m0,1h2m0,1h2m0,1h2m0,1h2m0,1h2m0,1h2m0,1h2m0,1h2m0,1h2m0,1h2m0,1h2m0,1h2m0,1h2m0,1h2m0,1h2m0,1h2m0,1h2m0,1h2m0,1h2m0,1h2m0,1h2m0,1h2m0,1h2m0,1h2m0,1h2m0,1h2m0,1h2m0,1h2m0,1h2m0,1h2m0,1h2m0,1h2m0,1h2m0,1h2m0,1h2m0,1h2m0,1h2m0,1h2m0,1h2m0,1h2m0,1h2m0,1h2m0,1h2m0,1h2m0,1h2m0,1h2m0,1h2m0,1h2m0,1h2m0,1h2m0,1h2m0,1h2m0,1h3m0,1h2m0,1h2m0,1h2m0,1h2m0,1h2m0,1h2m0,1h2m0,1h2m0,1h2m0,1h2m0,1h2m0,1h2m0,1h2m0,1h2m0,1h2m0,1h2m0,1h2m0,1h2m0,1h2m0,1h2m0,1h2m0,1h2m0,1h2m0,1h2m0,1h2m0,1h2m0,1h2m0,1h2m0,1h2m0,1h2m0,1h2m0,1h2m0,1h2m0,1h2m0,1h2m0,1h2m0,1h2m0,1h2m0,1h2m0,1h2m0,1h2m0,1h2m0,1h2m0,1h2m0,1h2m0,1h2m0,1h2m0,1h2m0,1h2m0,1h2m0,1h2m0,1h2m0,1h2m0,1h2m0,1h2m0,1h2m0,1h2m0,1h2m0,1h2m0,1h2m0,1h2m0,1h2m0,1h2m0,1h2m0,1h2m0,1h2m0,1h2m0,1h2m0,1h2m0,1h2m0,1h2m0,1h2m0,1h2m0,1h2m0,1h2m0,1h2m0,1h2m0,1h2m0,1h2m0,1h2m0,1h2m0,1h3m0,1h2m0,1h2m0,1h2m0,1h2m0,1h2m0,1h2m0,1h2m0,1h2m0,1h2m0,1h2m0,1h2m0,1h2m0,1h2m0,1h2m0,1h2m0,1h2m0,1h2m0,1h2m0,1h2m0,1h2m0,1h2m0,1h2m0,1h2m0,1h2m0,1h2m0,1h2m0,1h2m0,1h2m0,1h2m0,1h2m0,1h2m0,1h2m0,1h2m0,1h2m0,1h2m0,1h2m0,1h2m0,1h2m0,1h2m0,1h2m0,1h2m0,1h2m0,1h2m0,1h2m0,1h2m0,1h2m0,1h2m0,1h2m0,1h2m0,1h2m0,1h2m0,1h2m0,1h2m0,1h2m0,1h2m0,1h2m0,1h2m0,1h2m0,1h2m0,1h2m0,1h2m0,1h2m0,1h2m0,1h2m0,1h2m0,1h2m0,1h2m0,1h2m0,1h2m0,1h2m0,1h2m0,1h2m0,1h2m0,1h2m0,1h2m0,1h2m0,1h2m0,1h2m0,1h2m0,1h2m0,1h2m0,1h3m0,1h2m0,1h2m0,1h2m0,1h2m0,1h2m0,1h2m0,1h2m0,1h2m0,1h2m0,1h2m0,1h2m0,1h2m0,1h2m0,1h2m0,1h2m0,1h2m0,1h2m0,1h2m0,1h2m0,1h2m0,1h2m0,1h2m0,1h2m0,1h2m0,1h2m0,1h2m0,1h2m0,1h2m0,1h2m0,1h2m0,1h2m0,1h2m0,1h2m0,1h2m0,1h2m0,1h2m0,1h2m0,1h2m0,1h2m0,1h2m0,1h2m0,1h2m0,1h2m0,1h2m0,1h2m0,1h2m0,1h2m0,1h2m0,1h2m0,1h2m0,1h2m0,1h2m0,1h2m0,1h2m0,1h2m0,1h2m0,1h2m0,1h2m0,1h2" stroke="#0000ff" stroke-width="1" fill="none"/>
<path d="M389,44.5h2m0,1h2m0,1h2m0,1h2m0,1h2m0,1h2m0,1h2m0,1h2m0,1h2m0,1h2m0,1h2m0,1h2m0,1h2m0,1h2m0,1h2m0,1h2m0,1h2m0,1h2m0,1h2m0,1h2m0,1h2m0,1h2m0,1h2m0,1h2m0,1h3m0,1h2m0,1h2m0,1h2m0,1h2m0,1h2m0,1h2m0,1h2m0,1h2m0,1h2m0,1h2m0,1h2m0,1h2m0,1h2m0,1h2m0,1h2m0,1h2m0,1h2m0,1h2m0,1h2m0,1h2m0,1h2m0,1h2m0,1h2m0,1h2m0,1h3m0,1h2m0,1h2m0,1h2m0,1h2m0,1h2m0,1h2m0,1h2m0,1h2m0,1h2m0,1h2m0,1h2m0,1h2m0,1h2m0,1h2m0,1h2m0,1h2m0,1h2m0,1h2m0,1h2m0,1h2m0,1h2m0,1h2m0,1h2m0,1h3m0,1h2m0,1h2m0,1h2m0,1h2m0,1h2m0,1h2m0,1h2m0,1h2m0,1h2m0,1h2m0,1h2m0,1h2m0,1h2m0,1h2m0,1h2m0,1h2m0,1h2m0,1h2m0,1h2m0,1h2m0,1h2m0,1h2m0,1h2m0,1h3m0,1h2m0,1h2m0,1h2m0,1h2m0,1h2m0,1h2m0,1h2m0,1h2m0,1h2m0,1h2m0,1h2m0,1h2m0,1h2m0,1h2m0,1h2m0,1h2m0,1h2m0,1h2m0,1h2m0,1h2m0,1h2m0,1h2m0,1h2m0,1h3m0,1h2m0,1h2m0,1h2m0,1h2m0,1h2m0,1h2m0,1h2m0,1h2m0,1h2m0,1h2m0,1h2m0,1h2m0,1h2m0,1h2m0,1h2m0,1h2m0,1h2m0,1h2m0,1h2m0,1h2m0,1h2m0,1h2m0,1h2m0,1h2m0,1h3m0,1h2m0,1h2m0,1h2m0,1h2m0,1h2m0,1h2m0,1h2m0,1h2m0,1h2m0,1h2m0,1h2m0,1h2m0,1h2m0,1h2m0,1h2m0,1h2m0,1h2m0,1h2m0,1h2m0,1h2m0,1h2m0,1h2m0,1h2m0,1h3m0,1h2m0,1h2m0,1h2m0,1h2m0,1h2m0,1h2m0,1h2m0,1h2m0,1h2m0,1h2m0,1h2m0,1h2m0,1h2m0,1h2m0,1h2m0,1h2m0,1h2m0,1h2m0,1h2m0,1h2m0,1h2m0,1h2m0,1h2m0,1h3m0,1h2m0,1h2m0,1h2m0,1h2m0,1h2m0,1h2m0,1h2m0,1h2m0,1h2m0,1h2m0,1h2m0,1h2m0,1h2m0,1h2m0,1h2m0,1h2m0,1h2m0,1h2m0,1h2m0,1h2m0,1h2m0,1h2m0,1h2m0,1h2m0,1h3m0,1h2m0,1h2m0,1h2m0,1h2m0,1h2m0,1h2m0,1h2m0,1h2m0,1h2m0,1h2m0,1h2m0,1h2m0,1h2m0,1h2m0,1h2m0,1h2m0,1h2m0,1h2m0,1h2m0,1h2m0,1h2m0,1h2m0,1h2m0,1h3m0,1h2m0,1h2m0,1h2m0,1h2m0,1h2m0,1h2m0,1h2m0,1h2m0,1h2m0,1h2m0,1h2m0,1h2m0,1h2m0,1h2m0,1h2m0,1h2m0,1h2m0,1h2m0,1h2m0,1h2m0,1h2m0,1h2m0,1h2m0,1h3m0,1h2m0,1h2m0,1h2m0,1h2" stroke="#0000ff" stroke-width="1" fill="none"/>
<path d="M54.5,291v3m1,-4v3m1,-4v3m1,-4v3m1,-4v3m1,-4v3m1,-4v3m1,-4v3m1,-4v3m1,-4v3m1,-4v3m1,-4v3m1,-4v3m1,-4v3m1,-4v3m1,-4v3m1,-4v3m1,-4v3m1,-4v3m1,-4v3m1,-4v3m1,-4v3m1,-4v3m1,-4v3m1,-4v3m1,-4v3m1,-4v3m1,-4v3m1,-4v3m1,-4v3m1,-4v3m1,-4v3m1,-4v3m1,-4v3m1,-4v3m1,-4v3m1,-4v3m1,-4v3m1,-4v3m1,-4v3m1,-4v3m1,-4v3m1,-4v3m1,-4v3m1,-4v3m1,-4v3m1,-4v3m1,-4v3m1,-4v3m1,-4v3m1,-4v3m1,-4v3m1,-4v3m1,-4v3m1,-4v3m1,-4v3m1,-4v3m1,-4v3m1,-4v3m1,-4v3m1,-4v3m1,-4v3m1,-4v3m1,-4v3m1,-4v3m1,-4v3m1,-4v3m1,-4v3m1,-4v3m1,-4v3m1,-4v3m1,-4v3m1,-4v3m1,-4v3m1,-4v3m1,-4v3m1,-4v3m1,-4v3m1,-4v3m1,-4v3m1,-4v3m1,-4v3m1,-4v3m1,-4v3m1,-4v3m1,-4v3m1,-4v3m1,-4v3m1,-4v3m1,-4v3m1,-4v3m1,-4v3m1,-4v3m1,-4v3m1,-4v3m1,-4v3m1,-4v3m1,-4v3m1,-4v3m1,-4v3m1,-4v3m1,-4v3m1,-4v3m1,-4v3m1,-4v3m1,-4v3m1,-4v3m1,-4v3m1,-4v3m1,-4v3m1,-4v3m1,-4v3m1,-4v3m1,-4v3m1,-4v3m1,-4v3m1,-4v3m1,-4v3m1,-4v3m1,-4v3m1,-4v3m1,-4v3m1,-4v3m1,-4v3m1,-4v3m1,-4v3m1,-4v3m1,-4v3m1,-4v3m1,-4v3m1,-4v3m1,-4v3m1,-4v3m1,-4v3m1,-4v3m1,-4v3m1,-4v3m1,-4v3m1,-4v3m1,-4v3m1,-4v3m1,-4v3m1,-4v3m1,-4v3m1,-4v3m1,-4v3m1,-4v3m1,-4v3m1,-4v3m1,-4v3m1,-4v3m1,-4v3m1,-4v3m1,-4v3m1,-4v3m1,-4v3m1,-4v3m1,-4v3m1,-4v3m1,-4v3m1,-4v3m1,-4v3m1,-4v3m1,-4v3m1,-4v3m1,-4v3m1,-4v3m1,-4v3m1,-4v3m1,-4v3m1,-4v3m1,-4v3m1,-4v3m1,-4v3m1,-4v3m1,-4v3m1,-4v3m1,-4v3m1,-4v3m1,-4v3m1,-4v3m1,-4v3m1,-4v3m1,-4v3m1,-4v3m1,-4v3m1,-4v3m1,-4v3m1,-4v3m1,-4v3m1,-4v3m1,-4v3m1,-4v3m1,-4v3m1,-4v3m1,-4v3m1,-4v3m1,-4v3m1,-4v3m1,-4v3m1,-4v3m1,-4v3m1,-4v3m1,-4v3m1,-4v3m1,-4v3m1,-4v3m1,-4v3m1,-4v3m1,-4v3m1,-4v3m1,-4v3m1,-4v3m1,-4v3m1,-4v3m1,-4v3m1,-4v3m1,-4v3m1,-4v3m1,-4v3m1,-4v3m1,-4v3m1,-4v3m1,-4v3m1,-4v3m1,-4v3m1,-4v3m1,-4v3m1,-4v3m1,-4v3m1,-4v3m1,-4v3m1,-4v3m1,-4v3m1,-4v3m1,-4v3m1,-4v3m1,-4v3m1,-4v3m1,-4v3m1,-4v3m1,-4v3m1,-4v3m1,-4v3m1,-4v3m1,-4v3m1,-4v3m1,-4v3m1,-4v3m1,-4v3m1,-4v3m1,-4v3m1,-4v3m1,-4v3m1,-4v3m1,-4v3m1,-4v3m1,-4v3m1,-4v3m1,-4v3m1,-4v3m1,-4v3m1,-4v3m1,-4v3m1,-4v3m1,-4v3m1,-4v3m1,-4v3m1,-4v3m1,-4v3m1,-4v3m1,-4v3m1,-4v3m1,-4v3m1,-4v3m1,-4v3m1,-4v3m1,-4v3m1,-4v3m1,-4v3m1,-4v3m1,-4v3m1,-4v3m1,-4v3m1,-4v3m1,-4v3m1,-4v3m1,-4v3" stroke="#ff0000" stroke-width="1" fill="none"/>
<path d="M393,5.5h3m-4,1h3m-4,1h3m-4,1h3m-4,1h3m-4,1h3m-4,1h3m-4,1h3m-4,1h3m-4,1h3m-4,1h3m-4,1h3m-4,1h3m-4,1h3m-4,1h3m-4,1h3m-4,1h3m-4,1h3m-4,1h3m-4,1h3m-4,1h3m-4,1h3m-4,1h3m-4,1h3m-4,1h3m-4,1h3m-4,1h3m-4,1h3m-4,1h3m-4,1h3m-4,1h3m-3,1h3m-4,1h3m-4,1h3m-4,1h3m-4,1h3m-4,1h3m-4,1h3m-4,1h3m-4,1h3m-4,1h3m-4,1h3m-4,1h3m-4,1h3m-4,1h3m-4,1h3m-4,1h3m-4,1h3m-4,1h3m-4,1h3m-4,1h3m-4,1h3m-4,1h3m-4,1h3m-4,1h3m-4,1h3m-4,1h3m-4,1h3m-4,1h3m-4,1h3m-4,1h3m-4,1h3m-4,1h3m-4,1h3m-4,1h3m-4,1h3m-4,1h3m-4,1h3m-4,1h3m-4,1h3m-4,1h3m-4,1h3m-4,1h3m-4,1h3m-4,1h3m-4,1h3m-4,1h3m-4,1h3m-4,1h3m-4,1h3m-4,1h3m-4,1h3m-4,1h3m-4,1h3m-4,1h3m-4,1h3m-4,1h3m-4,1h3m-4,1h3m-4,1h3m-4,1h3m-4,1h3m-4,1h3m-4,1h3m-4,1h3m-4,1h3m-4,1h3m-4,1h3m-4,1h3m-4,1h3m-4,1h3m-4,1h3m-3,1h3m-4,1h3m-4,1h3m-4,1h3m-4,1h3m-4,1h3m-4,1h3m-4,1h3m-4,1h3m-4,1h3m-4,1h3m-4,1h3m-4,1h3m-4,1h3m-4,1h3m-4,1h3m-4,1h3m-4,1h3m-4,1h3m-4,1h3m-4,1h3m-4,1h3m-4,1h3m-4,1h3m-4,1h3m-4,1h3m-4,1h3m-4,1h3m-4,1h3m-4,1h3m-4,1h3m-4,1h3m-4,1h3m-4,1h3m-4,1h3m-4,1h3m-4,1h3m-4,1h3m-4,1h3m-4,1h3m-4,1h3m-4,1h3m-4,1h3m-4,1h3m-4,1h3m-4,1h3m-4,1h3m-4,1h3m-4,1h3m-4,1h3m-4,1h3m-4,1h3m-4,1h3m-4,1h3m-4,1h3m-4,1h3m-4,1h3m-4,1h3m-4,1h3m-4,1h3m-4,1h3m-4,1h3m-4,1h3m-4,1h3m-4,1h3m-4,1h3m-4,1h3m-4,1h3m-4,1h3m-4,1h3m-4,1h3m-3,1h3m-4,1h3m-4,1h3m-4,1h3m-4,1h3m-4,1h3m-4,1h3m-4,1h3m-4,1h3m-4,1h3m-4,1h3m-4,1h3m-4,1h3m-4,1h3m-4,1h3m-4,1h3m-4,1h3m-4,1h3m-4,1h3m-4,1h3m-4,1h3m-4,1h3m-4,1h3m-4,1h3m-4,1h3m-4,1h3m-4,1h3m-4,1h3m-4,1h3m-4,1h3m-4,1h3m-4,1h3m-4,1h3m-4,1h3m-4,1h3m-4,1h3m-4,1h3m-4,1h3m-4,1h3m-4,1h3m-4,1h3m-4,1h3m-4,1h3m-4,1h3m-4,1h3m-4,1h3m-4,1h3m-4,1h3m-4,1h3m-4,1h3m-4,1h3m-4,1h3m-4,1h3m-4,1h3m-4,1h3m-4,1h3m-4,1h3m-4,1h3m-4,1h3m-4,1h3m-4,1h3m-4,1h3m-4,1h3m-4,1h3m-4,1h3m-4,1h3m-4,1h3m-4,1h3m-4,1h3m-4,1h3m-4,1h3m-3,1h3m-4,1h3m-4,1h3m-4,1h3m-4,1h3m-4,1h3m-4,1h3m-4,1h3m-4,1h3m-4,1h3m-4,1h3m-4,1h3m-4,1h3m-4,1h3m-4,1h3m-4,1h3m-4,1h3m-4,1h3m-4,1h3m-4,1h3m-4,1h3m-4,1h3m-4,1h3m-4,1h3m-4,1h3m-4,1h3m-4,1h3m-4,1h3m-4,1h3m-4,1h3m-4,1h3m-4,1h3m-4,1h3m-4,1h3m-4,1h3" stroke="#ff0000" stroke-width="1" fill="none"/>
<path d="M218.5,233v3m1,-4v3m1,-4v3m1,-4v3m1,-4v3m1,-4v3m1,-4v3m1,-4v3m1,-4v3m1,-4v3m1,-4v3m1,-4v3m1,-4v3m1,-4v3m1,-4v3m1,-4v3m1,-4v3m1,-4v3m1,-4v3m1,-4v3m1,-4v3m1,-4v3m1,-4v3m1,-4v3m1,-4v3m1,-4v3m1,-4v3m1,-4v3m1,-4v3m1,-4v3m1,-4v3m1,-4v3m1,-4v3m1,-4v3m1,-4v3m1,-4v3m1,-4v3m1,-4v3m1,-4v3m1,-4v3m1,-4v3m1,-4v3m1,-4v3m1,-4v3m1,-4v3m1,-4v3m1,-4v3m1,-4v3m1,-4v3m1,-4v3m1,-4v3m1,-4v3m1,-4v3m1,-4v3m1,-4v3m1,-4v3m1,-4v3m1,-4v3m1,-4v3m1,-4v3m1,-4v3m1,-4v3m1,-4v3m1,-4v3m1,-4v3m1,-4v3m1,-4v3m1,-4v3m1,-4v3m1,-4v3m1,-4v3m1,-4v3m1,-4v3m1,-4v3m1,-4v3m1,-4v3m1,-4v3m1,-4v3m1,-4v3m1,-4v3m1,-4v3m1,-4v3m1,-4v3m1,-4v3m1,-4v3m1,-4v3m1,-4v3m1,-4v3m1,-4v3m1,-4v3m1,-4v3m1,-4v3m1,-4v3m1,-4v3m1,-4v3m1,-4v3m1,-4v3m1,-4v3m1,-4v3m1,-4v3m1,-4v3m1,-4v3m1,-4v3m1,-4v3m1,-4v3m1,-4v3m1,-4v3m1,-4v3m1,-4v3m1,-4v3m1,-4v3m1,-4v3m1,-4v3m1,-4v3m1,-4v3m1,-4v3m1,-4v3m1,-4v3m1,-4v3m1,-4v3m1,-4v3m1,-4v3m1,-4v3m1,-4v3m1,-4v3m1,-4v3m1,-4v3m1,-4v3m1,-4v3m1,-4v3m1,-4v3m1,-4v3m1,-4v3m1,-4v3m1,-4v3m1,-4v3m1,-4v3m1,-4v3m1,-4v3m1,-4v3m1,-4v3m1,-4v3m1,-4v3m1,-4v3m1,-4v3m1,-4v3m1,-4v3m1,-4v3m1,-4v3m1,-4v3m1,-4v3m1,-4v3m1,-4v3m1,-4v3m1,-4v3m1,-4v3m1,-4v3m1,-4v3m1,-4v3m1,-4v3m1,-4v3m1,-4v3m1,-4v3m1,-4v3m1,-4v3m1,-4v3m1,-4v3m1,-4v3m1,-4v3m1,-4v3m1,-4v3m1,-4v3m1,-4v3m1,-4v3m1,-4v3m1,-4v3m1,-4v3m1,-4v3m1,-4v3m1,-4v3m1,-4v3m1,-4v3m1,-4v3m1,-4v3m1,-4v3m1,-4v3m1,-4v3m1,-4v3m1,-4v3m1,-4v3m1,-4v3m1,-4v3m1,-4v3m1,-4v3m1,-4v3m1,-4v3m1,-4v3m1,-4v3m1,-4v3m1,-4v3m1,-4v3m1,-4v3m1,-4v3m1,-4v3m1,-4v3m1,-4v3m1,-4v3m1,-4v3m1,-4v3m1,-4v3m1,-4v3m1,-4v3m1,-4v3m1,-4v3m1,-4v3m1,-4v3m1,-4v3m1,-4v3m1,-4v3m1,-4v3m1,-4v3m1,-4v3m1,-4v3m1,-4v3m1,-4v3m1,-4v3m1,-4v3m1,-4v3m1,-4v3m1,-4v3m1,-4v3" stroke="#ff0000" stroke-width="1" fill="none"/>
<path d="M427.5,207v3m1,-4v3m1,-4v3m1,-4v3m1,-4v3m1,-4v3m1,-4v3m1,-4v3m1,-4v3m1,-4v3m1,-4v3m1,-4v3m1,-4v3m1,-4v3m1,-4v3m1,-4v3m1,-4v3m1,-4v3m1,-4v3m1,-4v3m1,-4v3m1,-4v3m1,-4v3m1,-4v3m1,-4v3m1,-4v3m1,-4v3m1,-4v3m1,-4v3m1,-4v3m1,-4v3m1,-4v3m1,-4v3m1,-4v3m1,-4v3m1,-4v3m1,-4v3m1,-4v3m1,-4v3m1,-4v3m1,-4v3m1,-4v3m1,-4v3m1,-4v3m1,-4v3m1,-4v3m1,-4v3m1,-4v3m1,-4v3m1,-4v3m1,-4v3m1,-4v3m1,-4v3m1,-4v3m1,-4v3m1,-4v3m1,-4v3m1,-4v3m1,-4v3m1,-4v3m1,-4v3m1,-4v3m1,-4v3m1,-4v3m1,-4v3m1,-4v3m1,-4v3m1,-4v3m1,-4v3m1,-4v3m1,-4v3m1,-4v3m1,-4v3m1,-4v3m1,-4v3m1,-4v3m1,-4v3m1,-4v3m1,-4v3m1,-4v3m1,-4v3m1,-4v3m1,-4v3m1,-4v3m1,-4v3m1,-4v3m1,-4v3m1,-4v3m1,-4v3m1,-4v3m1,-4v3m1,-4v3m1,-4v3m1,-4v3m1,-4v3m1,-4v3m1,-4v3m1,-4v3m1,-4v3m1,-4v3m1,-4v3m1,-4v3m1,-4v3m1,-4v3m1,-4v3m1,-4v3m1,-4v3m1,-4v3m1,-4v3m1,-4v3m1,-4v3m1,-4v3m1,-4v3m1,-4v3m1,-4v3m1,-4v3m1,-4v3m1,-4v3m1,-4v3m1,-4v3m1,-4v3m1,-4v3m1,-4v3m1,-4v3m1,-4v3m1,-4v3m1,-4v3m1,-4v3m1,-4v3m1,-4v3m1,-4v3m1,-4v3m1,-4v3m1,-4v3m1,-4v3m1,-4v3m1,-4v3m1,-4v3m1,-4v3m1,-4v3m1,-4v3m1,-4v3m1,-4v3m1,-4v3m1,-4v3m1,-4v3m1,-4v3m1,-4v3m1,-4v3m1,-4v3m1,-4v3m1,-4v3m1,-4v3m1,-4v3m1,-4v3m1,-4v3m1,-4v3m1,-4v3m1,-4v3m1,-4v3m1,-4v3m1,-4v3m1,-4v3m1,-4v3m1,-4v3m1,-4v3m1,-4v3m1,-4v3m1,-4v3m1,-4v3m1,-4v3m1,-4v3m1,-4v3m1,-4v3m1,-4v3m1,-4v3m1,-4v3m1,-4v3m1,-4v3m1,-4v3m1,-4v3m1,-4v3m1,-4v3m1,-4v3m1,-4v3m1,-4v3m1,-4v3m1,-4v3m1,-4v3m1,-4v3m1,-4v3m1,-4v3m1,-4v3m1,-4v3m1,-4v3m1,-4v3m1,-4v3m1,-4v3m1,-4v3m1,-4v3m1,-4v3m1,-4v3m1,-4v3m1,-4v3" stroke="#ff0000" stroke-width="1" fill="none"/>
<path d="M472.5,191v3m1,-4v3m1,-4v3m1,-4v3m1,-4v3m1,-4v3m1,-4v3m1,-4v3m1,-4v3m1,-4v3m1,-4v3m1,-4v3m1,-4v3m1,-4v3m1,-4v3m1,-4v3m1,-4v3m1,-4v3m1,-4v3m1,-4v3m1,-4v3m1,-4v3m1,-4v3m1,-4v3m1,-4v3m1,-4v3m1,-4v3m1,-4v3m1,-4v3m1,-4v3m1,-4v3m1,-4v3m1,-4v3m1,-4v3m1,-4v3m1,-4v3m1,-4v3m1,-4v3m1,-4v3m1,-4v3m1,-4v3m1,-4v3m1,-4v3m1,-4v3m1,-4v3m1,-4v3m1,-4v3m1,-4v3m1,-4v3m1,-4v3m1,-4v3m1,-4v3m1,-4v3m1,-4v3m1,-4v3m1,-4v3m1,-4v3m1,-4v3m1,-4v3m1,-4v3m1,-4v3m1,-4v3m1,-4v3m1,-4v3m1,-4v3m1,-4v3m1,-4v3m1,-4v3m1,-4v3m1,-4v3m1,-4v3m1,-4v3m1,-4v3m1,-4v3m1,-4v3m1,-4v3m1,-4v3m1,-4v3m1,-4v3m1,-4v3m1,-4v3m1,-4v3m1,-4v3m1,-4v3m1,-4v3m1,-4v3m1,-4v3m1,-4v3m1,-4v3m1,-4v3m1,-4v3m1,-4v3m1,-4v3m1,-4v3m1,-4v3m1,-4v3m1,-4v3m1,-4v3m1,-4v3m1,-4v3m1,-4v3m1,-4v3m1,-4v3m1,-4v3m1,-4v3m1,-4v3m1,-4v3m1,-4v3m1,-4v3m1,-4v3m1,-4v3m1,-4v3m1,-4v3m1,-4v3m1,-4v3m1,-4v3m1,-4v3m1,-4v3m1,-4v3m1,-4v3m1,-4v3m1,-4v3m1,-4v3m1,-4v3m1,-4v3m1,-4v3m1,-4v3m1,-4v3m1,-4v3m1,-4v3m1,-4v3m1,-4v3m1,-4v3m1,-4v3m1,-4v3m1,-4v3m1,-4v3m1,-4v3m1,-4v3m1,-4v3m1,-4v3m1,-4v3m1,-4v3m1,-4v3m1,-4v3m1,-4v3m1,-4v3m1,-4v3m1,-4v3m1,-4v3m1,-4v3m1,-4v3m1,-4v3m1,-4v3m1,-4v3m1,-4v3m1,-4v3m1,-4v3m1,-4v3m1,-4v3m1,-4v3m1,-4v3m1,-4v3m1,-4v3m1,-4v3m1,-4v3m1,-4v3m1,-4v3m1,-4v3m1,-4v3m1,-4v3m1,-4v3m1,-4v3m1,-4v3m1,-4v3m1,-4v3m1,-4v3m1,-4v3m1,-4v3m1,-4v3m1,-4v3m1,-4v3m1,-4v3m1,-4v3m1,-4v3m1,-4v3m1,-4v3m1,-4v3" stroke="#ff0000" stroke-width="1" fill="none"/>
<path d="M427.5,206v3m1,-2v3m1,-2v3m1,-2v3m1,-2v3m1,-2v3m1,-2v3m1,-2v3m1,-2v3m1,-2v3m1,-2v3m1,-2v3m1,-2v3m1,-2v3m1,-2v3m1,-2v3m1,-2v3m1,-2v3m1,-2v3m1,-2v3m1,-2v3m1,-2v3m1,-2v3m1,-2v3m1,-2v3m1,-2v3m1,-2v3m1,-2v3m1,-2v3m1,-2v3m1,-2v3m1,-2v3m1,-2v3m1,-2v3m1,-2v3m1,-2v3m1,-2v3m1,-2v3m1,-2v3m1,-2v3m1,-2v3m1,-2v3m1,-2v3m1,-2v3m1,-2v3m1,-2v3m1,-2v3m1,-2v3m1,-2v3m1,-2v3m1,-2v3m1,-2v3m1,-2v3m1,-2v3m1,-2v3m1,-2v3m1,-2v3m1,-2v3m1,-2v3m1,-2v3m1,-2v3m1,-2v3m1,-2v3m1,-2v3m1,-2v3m1,-2v3m1,-2v3m1,-2v3m1,-2v3m1,-2v3m1,-2v3m1,-2v3m1,-2v3m1,-2v3m1,-2v3m1,-2v3m1,-2v3m1,-2v3m1,-2v3m1,-2v3m1,-2v3m1,-2v3m1,-2v3m1,-2v3m1,-2v3m1,-2v3m1,-2v3m1,-2v3m1,-2v3m1,-2v3m1,-2v3m1,-2v3m1,-2v3m1,-2v3m1,-2v3m1,-2v3m1,-2v3m1,-2v3m1,-2v3m1,-2v3m1,-2v3m1,-2v3m1,-2v3m1,-2v3m1,-2v3m1,-2v3m1,-2v3m1,-2v3m1,-2v3m1,-2v3m1,-2v3m1,-2v3m1,-2v3m1,-2v3m1,-2v3m1,-2v3m1,-2v3m1,-2v3m1,-2v3m1,-2v3m1,-2v3m1,-2v3m1,-2v3m1,-2v3m1,-2v3m1,-2v3m1,-2v3m1,-2v3m1,-2v3m1,-2v3m1,-2v3m1,-2v3m1,-2v3m1,-2v3m1,-2v3m1,-2v3m1,-2v3m1,-2v3m1,-2v3m1,-2v3m1,-2v3m1,-2v3m1,-2v3m1,-2v3m1,-2v3m1,-2v3m1,-2v3m1,-2v3m1,-2v3m1,-2v3m1,-2v3m1,-2v3m1,-2v3m1,-2v3m1,-2v3m1,-2v3m1,-2v3m1,-2v3m1,-2v3m1,-2v3m1,-2v3m1,-2v3m1,-2v3m1,-2v3m1,-2v3m1,-2v3m1,-2v3m1,-2v3m1,-2v3m1,-2v3m1,-2v3m1,-2v3m1,-2v3m1,-2v3m1,-2v3m1,-2v3m1,-2v3m1,-2v3m1,-2v3m1,-2v3m1,-2v3m1,-2v3m1,-2v3m1,-2v3m1,-2v3m1,-2v3m1,-2v3m1,-2v3m1,-2v3m1,-2v3m1,-2v3m1,-2v3m1,-2v3m1,-2v3m1,-2v3m1,-2v3m1,-2v3m1,-2v3m1,-2v3m1,-2v3m1,-2v3m1,-2v3m1,-2v3m1,-2v3m1,-2v3m1,-2v3m1,-2v3m1,-2v3m1,-2v3m1,-2v3m1,-2v3m1,-2v3m1,-2v3m1,-2v3m1,-2v3m1,-2v3m1,-2v3m1,-2v3m1,-2v3m1,-2v3m1,-2v3m1,-2v3m1,-2v3m1,-2v3m1,-2v3m1,-2v3m1,-2v3m1,-2v3m1,-2v3m1,-2v3m1,-2v3m1,-2v3m1,-2v3m1,-2v3m1,-2v3m1,-2v3m1,-2v3m1,-2v3m1,-2v3m1,-2v3m1,-2v3m1,-2v3m1,-2v3m1,-2v3m1,-2v3m1,-2v3m1,-2v3m1,-2v3m1,-2v3m1,-2v3m1,-2v3m1,-2v3m1,-2v3m1,-2v3m1,-2v3m1,-2v3m1,-2v3m1,-2v3m1,-2v3m1,-2v3m1,-2v3m1,-2v3m1,-2v3m1,-2v3m1,-2v3m1,-2v3m1,-2v3m1,-2v3m1,-2v3m1,-2v3m1,-2v3m1,-2v3m1,-2v3m1,-2v3m1,-2v3m1,-2v3m1,-2v3m1,-2v3m1,-2v3m1,-2v3m1,-2v3m1,-2v3m1,-2v3m1,-2v3m1,-2v3m1,-2v3m1,-2v3m1,-2v3m1,-2v3m1,-2v3m1,-2v3m1,-2v3m1,-2v3m1,-2v3m1,-2v3m1,-2v3m1,-2v3m1,-2v3m1,-2v3m1,-2v3m1,-2v3m1,-2v3m1,-2v3m1,-2v3m1,-2v3m1,-2v3m1,-2v3m1,-2v3m1,-2v3m1,-2v3m1,-2v3m1,-2v3m1,-2v3m1,-2v3m1,-2v3m1,-2v3m1,-2v3m1,-2v3m1,-2v3m1,-2v3m1,-2v3m1,-2v3m1,-2v3m1,-2v3m1,-2v3m1,-2v3m1,-2v3m1,-2v3m1,-2v3m1,-2v3m1,-2v3m1,-2v3m1,-2v3m1,-2v3m1,-2v3m1,-2v3m1,-2v3m1,-2v3m1,-2v3m1,-2v3m1,-2v3m1,-2v3m1,-2v3m1,-2v3m1,-2v3m1,-2v3m1,-2v3m1,-2v3m1,-2v3m1,-2v3m1,-2v3m1,-2v3m1,-2v3m1,-2v3m1,-2v3m1,-2v3m1,-2v3m1,-2v3m1,-2v3m1,-2v3m1,-2v3m1,-2v3m1,-2v3m1,-2v3m1,-2v3m1,-2v3m1,-2v3m1,-2v3m1,-2v3m1,-2v3m1,-2v3" stroke="#ff0000" stroke-width="1" fill="none"/>
<path d="M345,97.5h3m-2,1h3m-2,1h3m-2,1h3m-2,1h3m-2,1h3m-2,1h3m-2,1h3m-2,1h3m-2,1h3m-2,1h3m-2,1h3m-2,1h3m-2,1h3m-2,1h3m-2,1h3m-2,1h3m-2,1h3m-2,1h3m-2,1h3m-2,1h3m-2,1h3m-2,1h3m-2,1h3m-2,1h3m-2,1h3m-2,1h3m-2,1h3m-2,1h3m-2,1h3m-2,1h3m-2,1h3m-2,1h3m-2,1h3m-2,1h3m-2,1h3m-2,1h3m-2,1h3m-2,1h3m-2,1h3m-2,1h3m-2,1h3m-2,1h3m-2,1h3m-2,1h3m-2,1h3m-2,1h3m-2,1h3m-2,1h3m-2,1h3m-2,1h3m-2,1h3m-2,1h3m-2,1h3m-2,1h3m-2,1h3m-2,1h3m-2,1h3m-2,1h3m-2,1h3m-2,1h3m-2,1h3m-2,1h3m-2,1h3m-2,1h3m-2,1h3m-2,1h3m-2,1h3m-2,1h3m-2,1h3m-2,1h3m-2,1h3m-2,1h3m-2,1h3m-2,1h3m-2,1h3m-2,1h3m-2,1h3m-2,1h3m-2,1h3m-2,1h3m-2,1h3m-2,1h3m-2,1h3m-2,1h3m-2,1h3m-2,1h3m-2,1h3m-2,1h3m-2,1h3m-2,1h3m-2,1h3m-2,1h3m-2,1h3m-2,1h3m-2,1h3m-2,1h3m-2,1h3m-2,1h3m-2,1h3m-2,1h3m-2,1h3m-2,1h3m-2,1h3m-2,1h3m-2,1h3m-2,1h3m-2,1h3m-2,1h3m-2,1h3m-2,1h3m-2,1h3m-2,1h3m-2,1h3m-2,1h3m-2,1h3m-2,1h3m-2,1h3m-2,1h3m-2,1h3m-2,1h3m-2,1h3m-2,1h3m-2,1h3m-2,1h3m-2,1h3m-2,1h3m-2,1h3m-2,1h3m-2,1h3m-2,1h3m-2,1h3m-2,1h3m-2,1h3m-2,1h3m-2,1h3m-2,1h3m-2,1h3m-2,1h3m-2,1h3m-2,1h3m-2,1h3m-2,1h3m-2,1h3m-2,1h3m-2,1h3m-2,1h3m-2,1h3m-2,1h3m-2,1h3m-2,1h3m-2,1h3m-2,1h3m-2,1h3m-2,1h3m-2,1h3m-2,1h3m-2,1h3m-2,1h3m-2,1h3m-2,1h3m-2,1h3m-2,1h3m-2,1h3m-2,1h3m-2,1h3m-2,1h3m-2,1h3m-2,1h3m-2,1h3m-2,1h3m-2,1h3m-2,1h3m-2,1h3m-2,1h3m-2,1h3m-2,1h3m-2,1h3m-2,1h3m-2,1h3m-2,1h3m-2,1h3m-2,1h3m-2,1h3m-2,1h3m-2,1h3m-2,1h3m-2,1h3m-2,1h3m-2,1h3m-2,1h3m-2,1h3m-2,1h3m-2,1h3m-2,1h3m-2,1h3m-2,1h3m-2,1h3m-2,1h3m-2,1h3m-2,1h3m-2,1h3m-2,1h3m-2,1h3m-2,1h3m-2,1h3m-2,1h3m-2,1h3m-2,1h3m-2,1h3m-2,1h3m-2,1h3m-2,1h3m-2,1h3m-2,1h3m-2,1h3m-2,1h3m-2,1h3m-2,1h3m-2,1h3m-2,1h3m-2,1h3m-2,1h3m-2,1h3m-2,1h3m-2,1h3m-2,1h3m-2,1h3m-2,1h3m-2,1h3m-2,1h3m-2,1h3m-2,1h3m-2,1h3m-2,1h3m-2,1h3m-2,1h3m-2,1h3m-2,1h3m-2,1h3m-2,1h3m-2,1h3m-2,1h3m-2,1h3m-2,1h3m-2,1h3m-2,1h3m-2,1h3m-2,1h3m-2,1h3m-2,1h3m-2,1h3m-2,1h3m-2,1h3m-2,1h3m-2,1h3m-2,1h3m-2,1h3m-2,1h3m-2,1h3m-2,1h3m-2,1h3m-2,1h3m-2,1h3m-2,1h3m-2,1h3m-2,1h3m-2,1h3m-2,1h3m-2,1h3m-2,1h3m-2,1h3m-2,1h3m-2,1h3m-2,1h3m-2,1h3m-2,1h3m-2,1h3m-2,1h3m-2,1h3m-2,1h3m-2,1h3m-2,1h3m-2,1h3m-2,1h3m-2,1h3m-2,1h3m-2,1h3m-2,1h3m-2,1h3m-2,1h3m-2,1h3m-2,1h3m-2,1h3m-2,1h3m-2,1h3m-2,1h3m-2,1h3m-2,1h3m-2,1h3m-2,1h3m-2,1h3m-2,1h3m-2,1h3m-2,1h3m-2,1h3m-2,1h3m-2,1h3m-2,1h3m-2,1h3m-2,1h3m-2,1h3m-2,1h3m-2,1h3m-2,1h3m-2,1h3m-2,1h3m-2,1h3m-2,1h3m-2,1h3m-2,1h3m-2,1h3m-2,1h3m-2,1h3m-2,1h3m-2,1h3m-2,1h3m-2,1h3m-2,1h3m-2,1h3m-2,1h3m-2,1h3m-2,1h3m-2,1h3m-2,1h3m-2,1h3m-2,1h3m-2,1h3m-2,1h3m-2,1h3m-2,1h3m-2,1h3m-2,1h3m-2,1h3m-2,1h3m-2,1h3m-2,1h3m-2,1h3m-2,1h3m-2,1h3m-2,1h3m-2,1h3m-2,1h3m-2,1h3m-2,1h3m-2,1h3m-2,1h3m-2,1h3m-2,1h3m-2,1h3m-2,1h3m-2,1h3m-2,1h3m-2,1h3m-2,1h3m-2,1h3m-2,1h3m-2,1h3m-2,1h3m-2,1h3m-2,1h3m-2,1h3m-2,1h3m-2,1h3m-2,1h3m-2,1h3m-2,1h3m-2,1h3m-2,1h3m-2,1h3m-2,1h3m-2,1h3m-2,1h3m-2,1h3m-2,1h3m-2,1h3m-2,1h3m-2,1h3m-2,1h3m-2,1h3m-2,1h3m-2,1h3m-2,1h3m-2,1h3m-2,1h3m-2,1h3m-2,1h3m-2,1h3m-2,1h3m-2,1h3m-2,1h3m-2,1h3m-2,1h3m-2,1h3m-2,1h3m-2,1h3m-2,1h3m-2,1h3m-2,1h3m-2,1h3m-2,1h3m-2,1h3m-2,1h3m-2,1h3m-2,1h3m-2,1h3m-2,1h3m-2,1h3m-2,1h3m-2,1h3m-2,1h3m-2,1h3m-2,1h3m-2,1h3m-2,1h3m-2,1h3m-2,1h3m-2,1h3m-2,1h3m-2,1h3m-2,1h3m-2,1h3m-2,1h3m-2,1h3m-2,1h3m-2,1h3m-2,1h3m-2,1h3m-2,1h3m-2,1h3m-2,1h3m-2,1h3m-2,1h3m-2,1h3m-2,1h3m-2,1h3m-2,1h3m-2,1h3m-2,1h3m-2,1h3m-2,1h3m-2,1h3m-2,1h3m-2,1h3m-2,1h3m-2,1h3m-2,1h3m-2,1h3m-2,1h3m-2,1h3m-2,1h3m-2,1h3m-2,1h3m-2,1h3m-2,1h3m-2,1h3m-2,1h3m-2,1h3m-2,1h3m-2,1h3m-2,1h3m-2,1h3m-2,1h3m-2,1h3m-2,1h3m-2,1h3m-2,1h3m-2,1h3m-2,1h3m-2,1h3m-2,1h3" stroke="#ff0000" stroke-width="1" fill="none"/>
<path d="M327,34.5h3m-2,1h3m-2,1h3m-2,1h3m-2,1h3m-2,1h3m-2,1h3m-2,1h3m-2,1h3m-2,1h3m-2,1h3m-2,1h3m-2,1h3m-2,1h3m-2,1h3m-2,1h3m-2,1h3m-2,1h3m-2,1h3m-2,1h3m-2,1h3m-2,1h3m-2,1h3m-2,1h3m-2,1h3m-2,1h3m-2,1h3m-2,1h3m-2,1h3m-2,1h3m-2,1h3m-2,1h3m-2,1h3m-2,1h3m-2,1h3m-2,1h3m-2,1h3m-2,1h3m-2,1h3m-2,1h3m-2,1h3m-2,1h3m-2,1h3m-2,1h3m-2,1h3m-2,1h3m-2,1h3m-2,1h3m-2,1h3m-2,1h3m-2,1h3m-2,1h3m-2,1h3m-2,1h3m-2,1h3m-2,1h3m-2,1h3m-2,1h3m-2,1h3m-2,1h3m-2,1h3m-2,1h3m-2,1h3m-2,1h3m-2,1h3m-2,1h3m-2,1h3m-2,1h3m-2,1h3m-2,1h3m-2,1h3m-2,1h3m-2,1h3m-2,1h3m-2,1h3m-2,1h3m-2,1h3m-2,1h3m-2,1h3m-2,1h3m-2,1h3m-2,1h3m-2,1h3m-2,1h3m-2,1h3m-2,1h3m-2,1h3m-2,1h3m-2,1h3m-2,1h3m-2,1h3m-2,1h3m-2,1h3m-2,1h3m-2,1h3m-2,1h3m-2,1h3m-2,1h3m-2,1h3m-2,1h3m-2,1h3m-2,1h3m-2,1h3m-2,1h3m-2,1h3m-2,1h3m-3,1h3m-2,1h3m-2,1h3m-2,1h3m-2,1h3m-2,1h3m-2,1h3m-2,1h3m-2,1h3m-2,1h3m-2,1h3m-2,1h3m-2,1h3m-2,1h3m-2,1h3m-2,1h3m-2,1h3m-2,1h3m-2,1h3m-2,1h3m-2,1h3m-2,1h3m-2,1h3m-2,1h3m-2,1h3m-2,1h3m-2,1h3m-2,1h3m-2,1h3m-2,1h3m-2,1h3m-2,1h3m-2,1h3m-2,1h3m-2,1h3m-2,1h3m-2,1h3m-2,1h3m-2,1h3m-2,1h3m-2,1h3m-2,1h3m-2,1h3m-2,1h3m-2,1h3m-2,1h3m-2,1h3m-2,1h3m-2,1h3m-2,1h3m-2,1h3m-2,1h3m-2,1h3m-2,1h3m-2,1h3m-2,1h3m-2,1h3m-2,1h3m-2,1h3m-2,1h3m-2,1h3m-2,1h3m-2,1h3m-2,1h3m-2,1h3m-2,1h3m-2,1h3m-2,1h3m-2,1h3m-2,1h3m-2,1h3m-2,1h3m-2,1h3m-2,1h3m-2,1h3m-2,1h3m-2,1h3m-2,1h3m-2,1h3m-2,1h3m-2,1h3m-2,1h3m-2,1h3m-2,1h3m-2,1h3m-2,1h3m-2,1h3m-2,1h3m-2,1h3m-2,1h3m-2,1h3m-2,1h3m-2,1h3m-2,1h3m-2,1h3m-2,1h3m-2,1h3m-2,1h3m-2,1h3m-2,1h3m-2,1h3m-2,1h3m-2,1h3m-2,1h3m-2,1h3m-2,1h3m-2,1h3m-2,1h3m-2,1h3m-2,1h3m-2,1h3m-2,1h3m-2,1h3m-2,1h3m-2,1h3m-2,1h3m-2,1h3m-2,1h3m-2,1h3m-2,1h3m-2,1h3m-2,1h3m-2,1h3m-2,1h3m-2,1h3m-2,1h3m-2,1h3m-2,1h3m-2,1h3m-2,1h3m-2,1h3m-2,1h3m-3,1h3m-2,1h3m-2,1h3m-2,1h3m-2,1h3m-2,1h3m-2,1h3m-2,1h3m-2,1h3m-2,1h3m-2,1h3m-2,1h3m-2,1h3m-2,1h3m-2,1h3m-2,1h3m-2,1h3m-2,1h3m-2,1h3m-2,1h3m-2,1h3m-2,1h3m-2,1h3m-2,1h3m-2,1h3m-2,1h3m-2,1h3m-2,1h3m-2,1h3m-2,1h3m-2,1h3m-2,1h3m-2,1h3m-2,1h3m-2,1h3m-2,1h3m-2,1h3m-2,1h3m-2,1h3m-2,1h3m-2,1h3m-2,1h3m-2,1h3m-2,1h3m-2,1h3m-2,1h3m-2,1h3m-2,1h3m-2,1h3m-2,1h3m-2,1h3m-2,1h3m-2,1h3m-2,1h3m-2,1h3m-2,1h3m-2,1h3m-2,1h3m-2,1h3m-2,1h3m-2,1h3m-2,1h3m-2,1h3m-2,1h3m-2,1h3m-2,1h3m-2,1h3m-2,1h3m-2,1h3m-2,1h3m-2,1h3m-2,1h3m-2,1h3m-2,1h3m-2,1h3m-2,1h3m-2,1h3m-2,1h3m-2,1h3m-2,1h3m-2,1h3m-2,1h3m-2,1h3m-2,1h3m-2,1h3m-2,1h3m-2,1h3m-2,1h3m-2,1h3m-2,1h3m-2,1h3m-2,1h3m-2,1h3m-2,1h3m-2,1h3m-2,1h3m-2,1h3m-2,1h3m-2,1h3m-2,1h3m-2,1h3m-2,1h3m-2,1h3m-2,1h3m-2,1h3m-2,1h3m-2,1h3m-2,1h3m-2,1h3m-2,1h3m-2,1h3m-2,1h3m-2,1h3m-2,1h3m-2,1h3m-2,1h3m-2,1h3m-2,1h3m-2,1h3m-2,1h3m-2,1h3m-2,1h3m-2,1h3m-2,1h3m-2,1h3m-2,1h3m-2,1h3m-2,1h3m-2,1h3m-2,1h3m-2,1h3m-2,1h3m-3,1h3m-2,1h3m-2,1h3m-2,1h3m-2,1h3m-2,1h3m-2,1h3m-2,1h3m-2,1h3m-2,1h3m-2,1h3m-2,1h3m-2,1h3m-2,1h3m-2,1h3m-2,1h3m-2,1h3m-2,1h3m-2,1h3m-2,1h3m-2,1h3m-2,1h3m-2,1h3m-2,1h3m-2,1h3m-2,1h3m-2,1h3m-2,1h3m-2,1h3m-2,1h3m-2,1h3m-2,1h3m-2,1h3m-2,1h3m-2,1h3m-2,1h3m-2,1h3m-2,1h3m-2,1h3m-2,1h3m-2,1h3m-2,1h3m-2,1h3m-2,1h3m-2,1h3m-2,1h3m-2,1h3m-2,1h3m-2,1h3m-2,1h3m-2,1h3m-2,1h3m-2,1h3m-2,1h3m-2,1h3m-2,1h3m-2,1h3m-2,1h3m-2,1h3m-2,1h3m-2,1h3m-2,1h3m-2,1h3m-2,1h3m-2,1h3m-2,1h3m-2,1h3m-2,1h3m-2,1h3m-2,1h3m-2,1h3m-2,1h3m-2,1h3m-2,1h3m-2,1h3m-2,1h3m-2,1h3m-2,1h3m-2,1h3m-2,1h3m-2,1h3m-2,1h3m-2,1h3m-2,1h3m-2,1h3m-2,1h3m-2,1h3m-2,1h3m-2,1h3m-2,1h3m-2,1h3m-2,1h3m-2,1h3m-2,1h3m-2,1h3m-2,1h3m-2,1h3m-2,1h3m-2,1h3m-2,1h3m-2,1h3m-2,1h3m-2,1h3m-2,1h3m-2,1h3m-2,1h3m-2,1h3m-2,1h3m-2,1h3m-2,1h3m-2,1h3m-2,1h3m-2,1h3m-2,1h3m-2,1h3m-2,1h3m-2,1h3m-2,1h3m-2,1h3m-2,1h3m-2,1h3m-2,1h3m-2,1h3m-2,1h3m-2,1h3m-2,1h3m-2,1h3m-2,1h3m-2,1h3m-2,1h3m-2,1h3m-2,1h3m-3,1h3m-2,1h3m-2,1h3m-2,1h3m-2,1h3m-2,1h3m-2,1h3m-2,1h3m-2,1h3m-2,1h3m-2,1h3m-2,1h3m-2,1h3m-2,1h3m-2,1h3m-2,1h3m-2,1h3m-2,1h3m-2,1h3m-2,1h3m-2,1h3m-2,1h3m-2,1h3m-2,1h3m-2,1h3m-2,1h3m-2,1h3m-2,1h3m-2,1h3m-2,1h3m-2,1h3m-2,1h3m-2,1h3m-2,1h3m-2,1h3m-2,1h3m-2,1h3m-2,1h3m-2,1h3m-2,1h3m-2,1h3m-2,1h3" stroke="#ff0000" stroke-width="1" fill="none"/>
<path d="M365,46.5h3m-2,1h3m-2,1h3m-2,1h3m-2,1h3m-2,1h3m-2,1h3m-2,1h3m-2,1h3m-2,1h3m-2,1h3m-2,1h3m-2,1h3m-2,1h3m-2,1h3m-2,1h3m-2,1h3m-2,1h3m-2,1h3m-2,1h3m-2,1h3m-2,1h3m-2,1h3m-2,1h3m-2,1h3m-2,1h3m-2,1h3m-2,1h3m-2,1h3m-2,1h3m-2,1h3m-2,1h3m-2,1h3m-2,1h3m-2,1h3m-2,1h3m-2,1h3m-2,1h3m-2,1h3m-2,1h3m-2,1h3m-2,1h3m-2,1h3m-2,1h3m-2,1h3m-2,1h3m-2,1h3m-2,1h3m-2,1h3m-2,1h3m-2,1h3m-2,1h3m-2,1h3m-2,1h3m-2,1h3m-2,1h3m-2,1h3m-2,1h3m-2,1h3m-2,1h3m-2,1h3m-2,1h3m-2,1h3m-2,1h3m-2,1h3m-2,1h3m-2,1h3m-2,1h3m-2,1h3m-2,1h3m-2,1h3m-2,1h3m-2,1h3m-2,1h3m-2,1h3m-2,1h3m-2,1h3m-2,1h3m-2,1h3m-2,1h3m-2,1h3m-2,1h3m-2,1h3m-2,1h3m-2,1h3m-2,1h3m-2,1h3m-2,1h3m-2,1h3m-2,1h3m-2,1h3m-2,1h3m-2,1h3m-2,1h3m-2,1h3m-2,1h3m-2,1h3m-2,1h3m-2,1h3m-2,1h3m-2,1h3m-2,1h3m-2,1h3m-2,1h3m-2,1h3m-2,1h3m-2,1h3m-2,1h3m-2,1h3m-2,1h3m-2,1h3m-2,1h3m-2,1h3m-2,1h3m-2,1h3m-2,1h3m-2,1h3m-2,1h3m-2,1h3m-2,1h3m-2,1h3m-2,1h3m-2,1h3m-2,1h3m-2,1h3m-2,1h3m-2,1h3m-2,1h3m-2,1h3m-2,1h3m-2,1h3m-2,1h3m-2,1h3m-2,1h3m-2,1h3m-2,1h3m-2,1h3m-2,1h3m-2,1h3m-2,1h3m-2,1h3m-2,1h3m-2,1h3m-2,1h3m-2,1h3m-2,1h3m-2,1h3m-2,1h3m-2,1h3m-2,1h3m-2,1h3m-2,1h3m-2,1h3m-2,1h3m-2,1h3m-2,1h3m-2,1h3m-2,1h3m-2,1h3m-2,1h3m-2,1h3m-2,1h3m-2,1h3m-2,1h3m-2,1h3m-2,1h3m-2,1h3m-2,1h3m-2,1h3m-2,1h3m-2,1h3m-2,1h3m-2,1h3m-2,1h3m-2,1h3m-2,1h3m-2,1h3m-2,1h3m-2,1h3m-2,1h3m-2,1h3m-2,1h3m-2,1h3m-2,1h3m-2,1h3m-2,1h3m-2,1h3m-2,1h3m-2,1h3m-2,1h3m-2,1h3m-2,1h3m-2,1h3m-2,1h3m-2,1h3m-2,1h3m-2,1h3m-2,1h3m-2,1h3m-2,1h3m-2,1h3m-2,1h3m-2,1h3m-2,1h3m-2,1h3m-2,1h3m-2,1h3m-2,1h3m-2,1h3m-2,1h3m-2,1h3m-2,1h3m-2,1h3m-2,1h3m-2,1h3m-2,1h3m-2,1h3m-2,1h3m-2,1h3m-2,1h3m-2,1h3m-2,1h3m-2,1h3m-2,1h3m-2,1h3m-2,1h3m-2,1h3m-2,1h3m-2,1h3m-2,1h3m-2,1h3m-2,1h3m-2,1h3m-2,1h3m-2,1h3m-2,1h3m-2,1h3m-2,1h3m-2,1h3m-2,1h3m-2,1h3m-2,1h3m-2,1h3m-2,1h3m-2,1h3m-2,1h3m-2,1h3m-2,1h3m-2,1h3m-2,1h3m-2,1h3m-2,1h3m-2,1h3m-2,1h3m-2,1h3m-2,1h3m-2,1h3m-2,1h3m-2,1h3m-2,1h3m-2,1h3m-2,1h3m-2,1h3m-2,1h3m-2,1h3m-2,1h3m-2,1h3m-2,1h3m-2,1h3m-2,1h3m-2,1h3m-2,1h3m-2,1h3m-2,1h3m-2,1h3m-2,1h3m-2,1h3m-2,1h3m-2,1h3m-2,1h3m-2,1h3m-2,1h3m-2,1h3m-2,1h3m-2,1h3m-2,1h3m-2,1h3m-2,1h3m-2,1h3m-2,1h3m-2,1h3m-2,1h3m-2,1h3m-2,1h3m-2,1h3m-2,1h3m-2,1h3m-2,1h3m-2,1h3m-2,1h3m-2,1h3m-2,1h3m-2,1h3m-2,1h3m-2,1h3m-2,1h3m-2,1h3m-2,1h3m-2,1h3m-2,1h3m-2,1h3m-2,1h3m-2,1h3m-2,1h3m-2,1h3m-2,1h3m-2,1h3m-2,1h3m-2,1h3m-2,1h3m-2,1h3m-2,1h3m-2,1h3m-2,1h3m-2,1h3m-2,1h3m-2,1h3m-2,1h3m-2,1h3m-2,1h3m-2,1h3m-2,1h3m-2,1h3m-2,1h3m-2,1h3m-2,1h3m-2,1h3m-2,1h3m-2,1h3m-2,1h3m-2,1h3m-2,1h3m-2,1h3m-2,1h3m-2,1h3m-2,1h3m-2,1h3m-2,1h3m-2,1h3m-2,1h3m-2,1h3m-2,1h3m-2,1h3m-2,1h3m-2,1h3m-2,1h3m-2,1h3m-2,1h3m-2,1h3m-2,1h3m-2,1h3m-2,1h3m-2,1h3m-2,1h3m-2,1h3m-2,1h3m-2,1h3m-2,1h3m-2,1h3m-2,1h3m-2,1h3m-2,1h3m-2,1h3m-2,1h3m-2,1h3m-2,1h3m-2,1h3m-2,1h3m-2,1h3m-2,1h3m-2,1h3m-2,1h3m-2,1h3m-2,1h3m-2,1h3m-2,1h3m-2,1h3m-2,1h3m-2,1h3m-2,1h3m-2,1h3m-2,1h3m-2,1h3m-2,1h3m-2,1h3m-2,1h3m-2,1h3m-2,1h3m-2,1h3m-2,1h3m-2,1h3m-2,1h3m-2,1h3m-2,1h3m-2,1h3m-2,1h3m-2,1h3m-2,1h3m-2,1h3m-2,1h3m-2,1h3m-2,1h3m-2,1h3m-2,1h3m-2,1h3m-2,1h3m-2,1h3m-2,1h3m-2,1h3m-2,1h3m-2,1h3m-2,1h3m-2,1h3m-2,1h3m-2,1h3m-2,1h3m-2,1h3m-2,1h3m-2,1h3m-2,1h3m-2,1h3m-2,1h3m-2,1h3m-2,1h3m-2,1h3m-2,1h3m-2,1h3m-2,1h3m-2,1h3m-2,1h3m-2,1h3m-2,1h3m-2,1h3m-2,1h3m-2,1h3m-2,1h3m-2,1h3m-2,1h3m-2,1h3m-2,1h3m-2,1h3m-2,1h3m-2,1h3m-2,1h3m-2,1h3m-2,1h3m-2,1h3m-2,1h3m-2,1h3m-2,1h3m-2,1h3m-2,1h3m-2,1h3m-2,1h3m-2,1h3m-2,1h3m-2,1h3m-2,1h3m-2,1h3m-2,1h3m-2,1h3m-2,1h3m-2,1h3m-2,1h3m-2,1h3m-2,1h3m-2,1h3m-2,1h3m-2,1h3m-2,1h3m-2,1h3m-2,1h3m-2,1h3m-2,1h3m-2,1h3m-2,1h3m-2,1h3m-2,1h3m-2,1h3m-2,1h3m-2,1h3m-2,1h3m-2,1h3m-2,1h3m-2,1h3m-2,1h3m-2,1h3m-2,1h3m-2,1h3m-2,1h3m-2,1h3m-2,1h3m-2,1h3m-2,1h3m-2,1h3m-2,1h3m-2,1h3m-2,1h3m-2,1h3m-2,1h3m-2,1h3m-2,1h3m-2,1h3m-2,1h3m-2,1h3m-2,1h3m-2,1h3m-2,1h3m-2,1h3m-2,1h3m-2,1h3m-2,1h3m-2,1h3m-2,1h3m-2,1h3m-2,1h3m-2,1h3m-2,1h3m-2,1h3m-2,1h3m-2,1h3m-2,1h3" stroke="#ff0000" stroke-width="1" fill="none"/>
<path d="M389.5,42v3m1,-2v3m1,-2v3m1,-2v3m1,-2v3m1,-2v3m1,-2v3m1,-2v3m1,-2v3m1,-2v3m1,-2v3m1,-2v3m1,-2v3m1,-2v3m1,-2v3m1,-2v3m1,-2v3m1,-2v3m1,-2v3m1,-2v3m1,-2v3m1,-2v3m1,-2v3m1,-2v3m1,-2v3m1,-2v3m1,-2v3m1,-2v3m1,-2v3m1,-2v3m1,-2v3m1,-2v3m1,-2v3m1,-2v3m1,-2v3m1,-2v3m1,-2v3m1,-2v3m1,-2v3m1,-2v3m1,-2v3m1,-2v3m1,-2v3m1,-2v3m1,-2v3m1,-2v3m1,-2v3m1,-2v3m1,-2v3m1,-2v3m1,-2v3m1,-2v3m1,-2v3m1,-2v3m1,-2v3m1,-2v3m1,-2v3m1,-2v3m1,-2v3m1,-2v3m1,-2v3m1,-2v3m1,-2v3m1,-2v3m1,-2v3m1,-2v3m1,-2v3m1,-2v3m1,-3v3m1,-2v3m1,-2v3m1,-2v3m1,-2v3m1,-2v3m1,-2v3m1,-2v3m1,-2v3m1,-2v3m1,-2v3m1,-2v3m1,-2v3m1,-2v3m1,-2v3m1,-2v3m1,-2v3m1,-2v3m1,-2v3m1,-2v3m1,-2v3m1,-2v3m1,-2v3m1,-2v3m1,-2v3m1,-2v3m1,-2v3m1,-2v3m1,-2v3m1,-2v3m1,-2v3m1,-2v3m1,-2v3m1,-2v3m1,-2v3m1,-2v3m1,-2v3m1,-2v3m1,-2v3m1,-2v3m1,-2v3m1,-2v3m1,-2v3m1,-2v3m1,-2v3m1,-2v3m1,-2v3m1,-2v3m1,-2v3m1,-2v3m1,-2v3m1,-2v3m1,-2v3m1,-2v3m1,-2v3m1,-2v3m1,-2v3m1,-2v3m1,-2v3m1,-2v3m1,-2v3m1,-2v3m1,-2v3m1,-2v3m1,-2v3m1,-2v3m1,-2v3m1,-2v3m1,-2v3m1,-2v3m1,-2v3m1,-2v3m1,-2v3m1,-2v3m1,-3v3m1,-2v3m1,-2v3m1,-2v3m1,-2v3m1,-2v3m1,-2v3m1,-2v3m1,-2v3m1,-2v3m1,-2v3m1,-2v3m1,-2v3m1,-2v3m1,-2v3m1,-2v3m1,-2v3m1,-2v3m1,-2v3m1,-2v3m1,-2v3m1,-2v3m1,-2v3m1,-2v3m1,-2v3m1,-2v3m1,-2v3m1,-2v3m1,-2v3m1,-2v3m1,-2v3m1,-2v3m1,-2v3m1,-2v3m1,-2v3m1,-2v3m1,-2v3m1,-2v3m1,-2v3m1,-2v3m1,-2v3m1,-2v3m1,-2v3m1,-2v3m1,-2v3m1,-2v3m1,-2v3m1,-2v3m1,-2v3m1,-2v3m1,-2v3m1,-2v3m1,-2v3m1,-2v3m1,-2v3m1,-2v3m1,-2v3m1,-2v3m1,-2v3m1,-2v3m1,-2v3m1,-2v3m1,-2v3m1,-2v3m1,-2v3m1,-2v3m1,-2v3m1,-2v3m1,-2v3m1,-2v3m1,-2v3m1,-2v3m1,-2v3m1,-2v3m1,-2v3m1,-3v3m1,-2v3m1,-2v3m1,-2v3m1,-2v3m1,-2v3m1,-2v3m1,-2v3m1,-2v3m1,-2v3m1,-2v3m1,-2v3m1,-2v3m1,-2v3m1,-2v3m1,-2v3m1,-2v3m1,-2v3m1,-2v3m1,-2v3m1,-2v3m1,-2v3m1,-2v3m1,-2v3m1,-2v3m1,-2v3m1,-2v3m1,-2v3m1,-2v3m1,-2v3m1,-2v3m1,-2v3m1,-2v3m1,-2v3m1,-2v3m1,-2v3m1,-2v3m1,-2v3m1,-2v3m1,-2v3m1,-2v3m1,-2v3m1,-2v3m1,-2v3m1,-2v3m1,-2v3m1,-2v3m1,-2v3m1,-2v3m1,-2v3m1,-2v3m1,-2v3m1,-2v3m1,-2v3m1,-2v3m1,-2v3m1,-2v3m1,-2v3m1,-2v3m1,-2v3m1,-2v3m1,-2v3m1,-2v3m1,-2v3m1,-2v3m1,-2v3m1,-2v3m1,-2v3m1,-2v3m1,-2v3m1,-2v3m1,-2v3m1,-2v3m1,-2v3m1,-2v3m1,-3v3m1,-2v3m1,-2v3m1,-2v3m1,-2v3m1,-2v3m1,-2v3m1,-2v3m1,-2v3m1,-2v3m1,-2v3m1,-2v3m1,-2v3m1,-2v3m1,-2v3m1,-2v3m1,-2v3m1,-2v3m1,-2v3m1,-2v3m1,-2v3m1,-2v3m1,-2v3m1,-2v3m1,-2v3m1,-2v3m1,-2v3m1,-2v3m1,-2v3m1,-2v3m1,-2v3m1,-2v3m1,-2v3m1,-2v3m1,-2v3m1,-2v3m1,-2v3m1,-2v3m1,-2v3m1,-2v3m1,-2v3m1,-2v3m1,-2v3m1,-2v3m1,-2v3m1,-2v3m1,-2v3m1,-2v3m1,-2v3m1,-2v3m1,-2v3m1,-2v3m1,-2v3m1,-2v3m1,-2v3m1,-2v3m1,-2v3m1,-2v3m1,-2v3m1,-2v3m1,-2v3m1,-2v3m1,-2v3m1,-2v3m1,-2v3m1,-2v3m1,-2v3m1,-2v3m1,-2v3m1,-2v3m1,-2v3m1,-2v3m1,-2v3m1,-2v3m1,-2v3m1,-3v3m1,-2v3m1,-2v3m1,-2v3m1,-2v3m1,-2v3m1,-2v3m1,-2v3m1,-2v3m1,-2v3m1,-2v3m1,-2v3m1,-2v3m1,-2v3m1,-2v3m1,-2v3m1,-2v3m1,-2v3m1,-2v3m1,-2v3m1,-2v3m1,-2v3m1,-2v3m1,-2v3m1,-2v3m1,-2v3m1,-2v3m1,-2v3m1,-2v3m1,-2v3m1,-2v3m1,-2v3m1,-2v3m1,-2v3m1,-2v3m1,-2v3m1,-2v3m1,-2v3m1,-2v3m1,-2v3m1,-2v3m1,-2v3m1,-2v3m1,-2v3m1,-2v3m1,-2v3m1,-2v3m1,-2v3m1,-2v3m1,-2v3m1,-2v3m1,-2v3m1,-2v3m1,-2v3m1,-2v3m1,-2v3m1,-2v3m1,-2v3m1,-2v3m1,-2v3m1,-2v3m1,-2v3m1,-2v3m1,-2v3m1,-2v3m1,-2v3m1,-2v3m1,-2v3m1,-2v3m1,-2v3m1,-2v3m1,-2v3m1,-2v3m1,-2v3m1,-2v3m1,-3v3m1,-2v3m1,-2v3m1,-2v3m1,-2v3m1,-2v3m1,-2v3m1,-2v3m1,-2v3m1,-2v3m1,-2v3m1,-2v3m1,-2v3m1,-2v3m1,-2v3m1,-2v3m1,-2v3m1,-2v3m1,-2v3m1,-2v3m1,-2v3m1,-2v3m1,-2v3m1,-2v3m1,-2v3m1,-2v3m1,-2v3m1,-2v3m1,-2v3m1,-2v3m1,-2v3m1,-2v3m1,-2v3m1,-2v3m1,-2v3m1,-2v3m1,-2v3m1,-2v3m1,-2v3m1,-2v3m1,-2v3m1,-2v3m1,-2v3m1,-2v3m1,-2v3m1,-2v3m1,-2v3m1,-2v3m1,-2v3m1,-2v3m1,-2v3m1,-2v3m1,-2v3m1,-2v3m1,-2v3m1,-2v3m1,-2v3m1,-2v3m1,-2v3m1,-2v3m1,-2v3m1,-2v3m1,-2v3m1,-2v3m1,-2v3m1,-2v3m1,-2v3m1,-2v3m1,-2v3m1,-2v3m1,-2v3m1,-2v3m1,-2v3m1,-2v3m1,-2v3m1,-3v3m1,-2v3m1,-2v3m1,-2v3m1,-2v3m1,-2v3m1,-2v3m1,-2v3m1,-2v3m1,-2v3m1,-2v3m1,-2v3m1,-2v3m1,-2v3m1,-2v3m1,-2v3m1,-2v3m1,-2v3m1,-2v3m1,-2v3m1,-2v3m1,-2v3m1,-2v3m1,-2v3m1,-2v3" stroke="#ff0000" stroke-width="1" fill="none"/>
<path d="M560.5,151v3m1,-2v3m1,-2v3m1,-2v3m1,-2v3m1,-2v3m1,-2v3m1,-2v3m1,-2v3m1,-3v3m1,-2v3m1,-2v3m1,-2v3m1,-2v3m1,-2v3m1,-2v3m1,-2v3m1,-2v3m1,-2v3m1,-2v3m1,-2v3m1,-2v3m1,-2v3m1,-2v3m1,-2v3m1,-2v3m1,-2v3m1,-2v3m1,-2v3m1,-2v3m1,-2v3m1,-2v3m1,-2v3m1,-2v3m1,-2v3m1,-2v3m1,-2v3m1,-2v3m1,-2v3m1,-3v3m1,-2v3m1,-2v3m1,-2v3m1,-2v3m1,-2v3m1,-2v3m1,-2v3m1,-2v3m1,-2v3m1,-2v3m1,-2v3m1,-2v3m1,-2v3m1,-2v3m1,-2v3m1,-2v3m1,-2v3m1,-2v3m1,-2v3m1,-2v3m1,-2v3m1,-2v3m1,-2v3m1,-2v3m1,-2v3m1,-2v3m1,-2v3m1,-2v3m1,-2v3m1,-3v3m1,-2v3m1,-2v3m1,-2v3m1,-2v3m1,-2v3m1,-2v3m1,-2v3m1,-2v3m1,-2v3m1,-2v3m1,-2v3m1,-2v3m1,-2v3m1,-2v3m1,-2v3m1,-2v3m1,-2v3m1,-2v3m1,-2v3m1,-2v3m1,-2v3m1,-2v3m1,-2v3m1,-2v3m1,-2v3m1,-2v3m1,-2v3m1,-2v3m1,-2v3m1,-3v3m1,-2v3m1,-2v3m1,-2v3m1,-2v3m1,-2v3m1,-2v3m1,-2v3m1,-2v3m1,-2v3m1,-2v3m1,-2v3m1,-2v3m1,-2v3m1,-2v3m1,-2v3m1,-2v3m1,-2v3m1,-2v3m1,-2v3m1,-2v3m1,-2v3m1,-2v3m1,-2v3m1,-2v3m1,-2v3m1,-2v3m1,-2v3m1,-2v3m1,-2v3m1,-3v3m1,-2v3m1,-2v3m1,-2v3m1,-2v3m1,-2v3m1,-2v3m1,-2v3m1,-2v3m1,-2v3m1,-2v3m1,-2v3m1,-2v3m1,-2v3m1,-2v3m1,-2v3m1,-2v3m1,-2v3m1,-2v3m1,-2v3m1,-2v3m1,-2v3m1,-2v3m1,-2v3m1,-2v3m1,-2v3m1,-2v3m1,-2v3m1,-2v3m1,-2v3m1,-3v3m1,-2v3m1,-2v3m1,-2v3m1,-2v3m1,-2v3m1,-2v3m1,-2v3m1,-2v3m1,-2v3m1,-2v3m1,-2v3m1,-2v3m1,-2v3m1,-2v3m1,-2v3m1,-2v3m1,-2v3m1,-2v3m1,-2v3m1,-2v3m1,-2v3m1,-2v3m1,-2v3m1,-2v3m1,-2v3m1,-2v3m1,-2v3m1,-2v3m1,-2v3m1,-3v3m1,-2v3m1,-2v3m1,-2v3m1,-2v3m1,-2v3m1,-2v3m1,-2v3m1,-2v3m1,-2v3m1,-2v3m1,-2v3m1,-2v3m1,-2v3m1,-2v3m1,-2v3m1,-2v3m1,-2v3m1,-2v3m1,-2v3m1,-2v3m1,-2v3m1,-2v3m1,-2v3m1,-2v3m1,-2v3m1,-2v3m1,-2v3m1,-2v3m1,-2v3m1,-3v3m1,-2v3m1,-2v3m1,-2v3m1,-2v3m1,-2v3m1,-2v3m1,-2v3m1,-2v3m1,-2v3m1,-2v3m1,-2v3m1,-2v3m1,-2v3m1,-2v3m1,-2v3m1,-2v3m1,-2v3m1,-2v3m1,-2v3m1,-2v3m1,-2v3m1,-2v3m1,-2v3m1,-2v3m1,-2v3m1,-2v3m1,-2v3m1,-2v3m1,-2v3m1,-3v3m1,-2v3m1,-2v3m1,-2v3m1,-2v3m1,-2v3m1,-2v3m1,-2v3m1,-2v3m1,-2v3m1,-2v3m1,-2v3m1,-2v3m1,-2v3m1,-2v3m1,-2v3m1,-2v3m1,-2v3m1,-2v3m1,-2v3m1,-2v3m1,-2v3m1,-2v3m1,-2v3m1,-2v3m1,-2v3m1,-2v3m1,-2v3m1,-2v3m1,-2v3m1,-3v3m1,-2v3m1,-2v3m1,-2v3m1,-2v3m1,-2v3m1,-2v3m1,-2v3m1,-2v3m1,-2v3m1,-2v3m1,-2v3m1,-2v3m1,-2v3m1,-2v3m1,-2v3m1,-2v3m1,-2v3m1,-2v3m1,-2v3m1,-2v3m1,-2v3m1,-2v3m1,-2v3m1,-2v3m1,-2v3m1,-2v3m1,-2v3m1,-2v3m1,-2v3m1,-3v3m1,-2v3m1,-2v3m1,-2v3m1,-2v3m1,-2v3m1,-2v3m1,-2v3m1,-2v3m1,-2v3m1,-2v3m1,-2v3m1,-2v3m1,-2v3m1,-2v3m1,-2v3m1,-2v3m1,-2v3m1,-2v3m1,-2v3m1,-2v3m1,-2v3m1,-2v3m1,-2v3m1,-2v3m1,-2v3m1,-2v3m1,-2v3m1,-2v3m1,-2v3m1,-3v3m1,-2v3m1,-2v3m1,-2v3m1,-2v3m1,-2v3m1,-2v3m1,-2v3m1,-2v3m1,-2v3m1,-2v3m1,-2v3m1,-2v3m1,-2v3m1,-2v3m1,-2v3m1,-2v3m1,-2v3m1,-2v3m1,-2v3m1,-2v3m1,-2v3m1,-2v3m1,-2v3m1,-2v3m1,-2v3m1,-2v3m1,-2v3m1,-2v3m1,-2v3m1,-3v3m1,-2v3m1,-2v3m1,-2v3m1,-2v3m1,-2v3m1,-2v3m1,-2v3m1,-2v3m1,-2v3m1,-2v3m1,-2v3m1,-2v3m1,-2v3" stroke="#ff0000" stroke-width="1" fill="none"/>
</g>
<g><path d="M214,233h7v7h-7zM215,234v5h5v-5z" fill="#800080" fill-rule="evenodd"/><path d="M200,141h7v7h-7zM201,142v5h5v-5z" fill="#800080" fill-rule="evenodd"/><path d="M209,131h7v7h-7zM210,132v5h5v-5z" fill="#800080" fill-rule="evenodd"/><path d="M193,203h7v7h-7zM194,204v5h5v-5z" fill="#800080" fill-rule="evenodd"/><path d="M199,253h7v7h-7zM200,254v5h5v-5z" fill="#800080" fill-rule="evenodd"/><path d="M225,254h7v7h-7zM226,255v5h5v-5z" fill="#800080" fill-rule="evenodd"/><path d="M277,174h7v7h-7zM278,175v5h5v-5z" fill="#800080" fill-rule="evenodd"/><path d="M320,126h7v7h-7zM321,127v5h5v-5z" fill="#800080" fill-rule="evenodd"/><path d="M360,111h7v7h-7zM361,112v5h5v-5z" fill="#800080" fill-rule="evenodd"/><path d="M348,389h7v7h-7zM349,390v5h5v-5z" fill="#800080" fill-rule="evenodd"/><path d="M427,133h7v7h-7zM428,134v5h5v-5z" fill="#800080" fill-rule="evenodd"/><path d="M437,117h7v7h-7zM438,118v5h5v-5z" fill="#800080" fill-rule="evenodd"/><path d="M452,106h7v7h-7zM453,107v5h5v-5z" fill="#800080" fill-rule="evenodd"/><path d="M482,88h7v7h-7zM483,89v5h5v-5z" fill="#800080" fill-rule="evenodd"/><path d="M512,117h7v7h-7zM513,118v5h5v-5z" fill="#800080" fill-rule="evenodd"/><path d="M532,134h7v7h-7zM533,135v5h5v-5z" fill="#800080" fill-rule="evenodd"/><path d="M548,110h7v7h-7zM549,111v5h5v-5z" fill="#800080" fill-rule="evenodd"/><path d="M490,270h7v7h-7zM491,271v5h5v-5z" fill="#800080" fill-rule="evenodd"/><path d="M586,177h7v7h-7zM587,178v5h5v-5z" fill="#800080" fill-rule="evenodd"/><rect x="50" y="288" width="9" height="9" fill="#008000"/><rect x="51" y="289" width="7" height="7" fill="#ff0000"/><rect x="51" y="295" width="5" height="1" fill="#fff"/><rect x="57" y="292" width="1" height="2" fill="#fff"/><rect x="50" y="289" width="9" height="9" fill="#008000"/><rect x="51" y="290" width="7" height="7" fill="#ff0000"/><rect x="51" y="296" width="5" height="1" fill="#fff"/><rect x="57" y="293" width="1" height="2" fill="#fff"/><rect x="79" y="200" width="9" height="9" fill="#008000"/><rect x="80" y="201" width="7" height="7" fill="#ff0000"/><rect x="80" y="207" width="5" height="1" fill="#fff"/><rect x="86" y="204" width="1" height="2" fill="#fff"/><rect x="114" y="281" width="9" height="9" fill="#008000"/><rect x="115" y="282" width="7" height="7" fill="#ff0000"/><rect x="115" y="288" width="5" height="1" fill="#fff"/><rect x="121" y="285" width="1" height="2" fill="#fff"/><rect x="116" y="279" width="9" height="9" fill="#008000"/><rect x="117" y="280" width="7" height="7" fill="#ff0000"/><rect x="117" y="286" width="5" height="1" fill="#fff"/><rect x="123" y="283" width="1" height="2" fill="#fff"/><rect x="214" y="230" width="9" height="9" fill="#008000"/><rect x="215" y="231" width="7" height="7" fill="#ff0000"/><rect x="215" y="237" width="5" height="1" fill="#fff"/><rect x="221" y="234" width="1" height="2" fill="#fff"/><rect x="322" y="27" width="9" height="9" fill="#008000"/><rect x="323" y="28" width="7" height="7" fill="#ff0000"/><rect x="323" y="34" width="5" height="1" fill="#fff"/><rect x="329" y="31" width="1" height="2" fill="#fff"/><rect x="324" y="30" width="9" height="9" fill="#008000"/><rect x="325" y="31" width="7" height="7" fill="#ff0000"/><rect x="325" y="37" width="5" height="1" fill="#fff"/><rect x="331" y="34" width="1" height="2" fill="#fff"/><rect x="342" y="93" width="9" height="9" fill="#008000"/><rect x="343" y="94" width="7" height="7" fill="#ff0000"/><rect x="343" y="100" width="5" height="1" fill="#fff"/><rect x="349" y="97" width="1" height="2" fill="#fff"/><rect x="362" y="42" width="9" height="9" fill="#008000"/><rect x="363" y="43" width="7" height="7" fill="#ff0000"/><rect x="363" y="49" width="5" height="1" fill="#fff"/><rect x="369" y="46" width="1" height="2" fill="#fff"/><rect x="385" y="39" width="9" height="9" fill="#008000"/><rect x="386" y="40" width="7" height="7" fill="#ff0000"/><rect x="386" y="46" width="5" height="1" fill="#fff"/><rect x="392" y="43" width="1" height="2" fill="#fff"/><rect x="422" y="203" width="9" height="9" fill="#008000"/><rect x="423" y="204" width="7" height="7" fill="#ff0000"/><rect x="423" y="210" width="5" height="1" fill="#fff"/><rect x="429" y="207" width="1" height="2" fill="#fff"/><rect x="422" y="204" width="9" height="9" fill="#008000"/><rect x="423" y="205" width="7" height="7" fill="#ff0000"/><rect x="423" y="211" width="5" height="1" fill="#fff"/><rect x="429" y="208" width="1" height="2" fill="#fff"/><rect x="467" y="189" width="9" height="9" fill="#008000"/><rect x="468" y="190" width="7" height="7" fill="#ff0000"/><rect x="468" y="196" width="5" height="1" fill="#fff"/><rect x="474" y="193" width="1" height="2" fill="#fff"/><rect x="556" y="148" width="9" height="9" fill="#008000"/><rect x="557" y="149" width="7" height="7" fill="#ff0000"/><rect x="557" y="155" width="5" height="1" fill="#fff"/><rect x="563" y="152" width="1" height="2" fill="#fff"/></g>
<g clip-path="url(#cp)">
<polyline fill="none" stroke="#ff0000" stroke-width="3" stroke-linejoin="round" points="53.2,345.6 80,327 90,320 98.2,313.5 107.8,298.5 119.1,289 140,271.5 158.4,259.4 172.1,249.8 188.2,236.4 203.6,222.3 211.2,216.3 218.7,210.2 223.8,204.6 227.8,198.2 234.2,189.8 238.8,185.9 243.3,181.3 247,175.8 250.7,170.3 254.4,165.7 259.9,161.1 266.3,156.5 272.7,151.9 280,147.3 287.4,141.8 292.2,137.5 302.3,120.7 314.1,107.2 320.2,98.8 329.2,91.4 339.6,83.9 347,75 353,64.6 357.5,57.1 363.4,51.2 369.4,46.7 376.8,40.7 384.3,36.3 391.7,31.8 397.7,24.4 402.1,16.9 406.6,9.5 409.6,5"/>
<polyline fill="none" stroke="#a000a0" stroke-width="3" stroke-linejoin="round" stroke-linecap="round" points="54,125.4 70,123 98,119 110.7,114.8 140,110 166,106 190,101 214,96.4 245,88 270,80.5 286,75.5 301.9,70.7 317.9,64.8 333.8,61.9 349.8,57.1 365.7,50.9 381.7,46.8 397.7,42.8 413.6,37.2 420,35.6 444.2,29.8 456.8,23.2 479.5,16.4 505,10.1 513.2,8.5"/>
</g>
</svg></body></html>
